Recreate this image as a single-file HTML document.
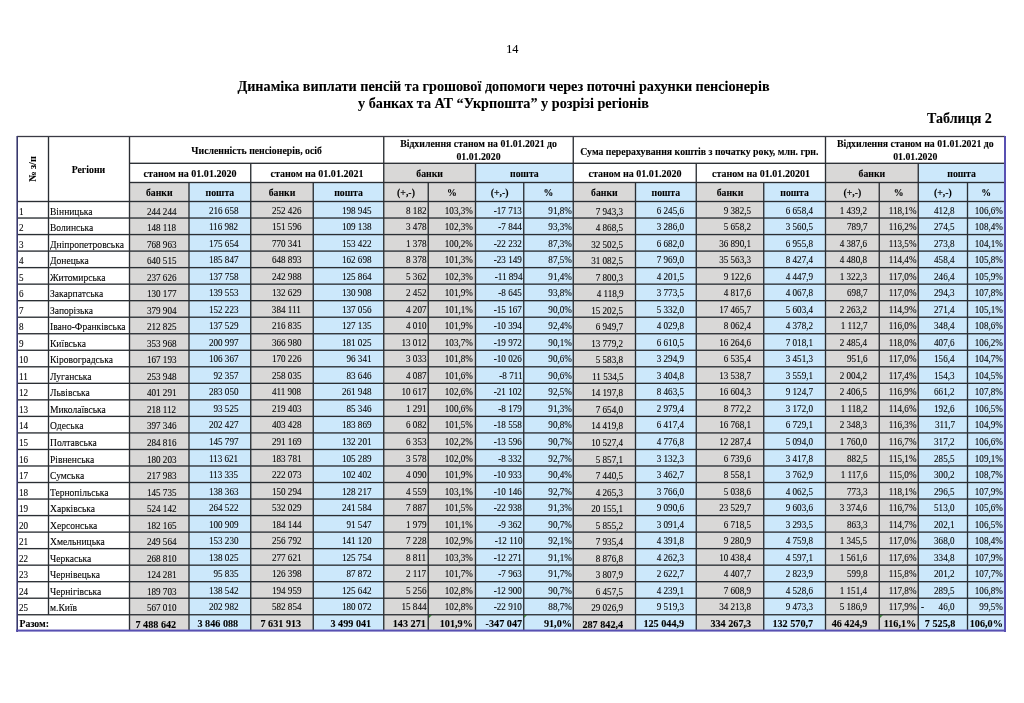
<!DOCTYPE html>
<html><head><meta charset="utf-8"><style>
html,body{margin:0;padding:0;background:#fff;}
body{width:1024px;height:703px;position:relative;overflow:hidden;}
#p{position:absolute;left:0;top:0;width:1024px;height:703px;will-change:transform;}
.r{position:absolute;}
.t{position:absolute;font-family:"Liberation Serif",serif;color:#000;line-height:20px;white-space:nowrap;}
.b{font-weight:bold;}
.t{-webkit-text-stroke:0.1px #000;}
</style></head><body><div id="p">
<div class="r" style="left:383.75px;top:163.30px;width:91.75px;height:19.20px;background:#d9d8d7"></div>
<div class="r" style="left:475.50px;top:163.30px;width:97.75px;height:19.20px;background:#cce8fb"></div>
<div class="r" style="left:825.50px;top:163.30px;width:92.75px;height:19.20px;background:#d9d8d7"></div>
<div class="r" style="left:918.25px;top:163.30px;width:86.75px;height:19.20px;background:#cce8fb"></div>
<div class="r" style="left:129.50px;top:182.50px;width:59.50px;height:448.78px;background:#d9d8d7"></div>
<div class="r" style="left:189.00px;top:182.50px;width:61.75px;height:448.78px;background:#cce8fb"></div>
<div class="r" style="left:250.75px;top:182.50px;width:62.50px;height:448.78px;background:#d9d8d7"></div>
<div class="r" style="left:313.25px;top:182.50px;width:70.50px;height:448.78px;background:#cce8fb"></div>
<div class="r" style="left:383.75px;top:182.50px;width:44.50px;height:448.78px;background:#d9d8d7"></div>
<div class="r" style="left:428.25px;top:182.50px;width:47.25px;height:448.78px;background:#d9d8d7"></div>
<div class="r" style="left:475.50px;top:182.50px;width:48.25px;height:448.78px;background:#cce8fb"></div>
<div class="r" style="left:523.75px;top:182.50px;width:49.50px;height:448.78px;background:#cce8fb"></div>
<div class="r" style="left:573.25px;top:182.50px;width:62.25px;height:448.78px;background:#d9d8d7"></div>
<div class="r" style="left:635.50px;top:182.50px;width:60.75px;height:448.78px;background:#cce8fb"></div>
<div class="r" style="left:696.25px;top:182.50px;width:67.50px;height:448.78px;background:#d9d8d7"></div>
<div class="r" style="left:763.75px;top:182.50px;width:61.75px;height:448.78px;background:#cce8fb"></div>
<div class="r" style="left:825.50px;top:182.50px;width:53.75px;height:448.78px;background:#d9d8d7"></div>
<div class="r" style="left:879.25px;top:182.50px;width:39.00px;height:448.78px;background:#d9d8d7"></div>
<div class="r" style="left:918.25px;top:182.50px;width:49.25px;height:448.78px;background:#cce8fb"></div>
<div class="r" style="left:967.50px;top:182.50px;width:37.50px;height:448.78px;background:#cce8fb"></div>
<div class="r" style="left:129.50px;top:162px;width:875.50px;height:1px;background:#2a2e33;opacity:0.38"></div>
<div class="r" style="left:129.50px;top:163px;width:875.50px;height:1px;background:#2a2e33;opacity:0.98"></div>
<div class="r" style="left:129.50px;top:181px;width:875.50px;height:1px;background:#2a2e33;opacity:0.18"></div>
<div class="r" style="left:129.50px;top:182px;width:875.50px;height:1px;background:#2a2e33;opacity:1.00"></div>
<div class="r" style="left:129.50px;top:183px;width:875.50px;height:1px;background:#2a2e33;opacity:0.18"></div>
<div class="r" style="left:17.00px;top:200px;width:988.00px;height:1px;background:#2a2e33;opacity:0.18"></div>
<div class="r" style="left:17.00px;top:201px;width:988.00px;height:1px;background:#2a2e33;opacity:1.00"></div>
<div class="r" style="left:17.00px;top:202px;width:988.00px;height:1px;background:#2a2e33;opacity:0.18"></div>
<div class="r" style="left:17.00px;top:217px;width:988.00px;height:1px;background:#2a2e33;opacity:0.65"></div>
<div class="r" style="left:17.00px;top:218px;width:988.00px;height:1px;background:#2a2e33;opacity:0.71"></div>
<div class="r" style="left:17.00px;top:233px;width:988.00px;height:1px;background:#2a2e33;opacity:0.12"></div>
<div class="r" style="left:17.00px;top:234px;width:988.00px;height:1px;background:#2a2e33;opacity:1.00"></div>
<div class="r" style="left:17.00px;top:235px;width:988.00px;height:1px;background:#2a2e33;opacity:0.24"></div>
<div class="r" style="left:17.00px;top:250px;width:988.00px;height:1px;background:#2a2e33;opacity:0.59"></div>
<div class="r" style="left:17.00px;top:251px;width:988.00px;height:1px;background:#2a2e33;opacity:0.77"></div>
<div class="r" style="left:17.00px;top:266px;width:988.00px;height:1px;background:#2a2e33;opacity:0.06"></div>
<div class="r" style="left:17.00px;top:267px;width:988.00px;height:1px;background:#2a2e33;opacity:1.00"></div>
<div class="r" style="left:17.00px;top:268px;width:988.00px;height:1px;background:#2a2e33;opacity:0.30"></div>
<div class="r" style="left:17.00px;top:283px;width:988.00px;height:1px;background:#2a2e33;opacity:0.53"></div>
<div class="r" style="left:17.00px;top:284px;width:988.00px;height:1px;background:#2a2e33;opacity:0.82"></div>
<div class="r" style="left:17.00px;top:300px;width:988.00px;height:1px;background:#2a2e33;opacity:1.00"></div>
<div class="r" style="left:17.00px;top:301px;width:988.00px;height:1px;background:#2a2e33;opacity:0.36"></div>
<div class="r" style="left:17.00px;top:316px;width:988.00px;height:1px;background:#2a2e33;opacity:0.46"></div>
<div class="r" style="left:17.00px;top:317px;width:988.00px;height:1px;background:#2a2e33;opacity:0.89"></div>
<div class="r" style="left:17.00px;top:333px;width:988.00px;height:1px;background:#2a2e33;opacity:0.94"></div>
<div class="r" style="left:17.00px;top:334px;width:988.00px;height:1px;background:#2a2e33;opacity:0.42"></div>
<div class="r" style="left:17.00px;top:349px;width:988.00px;height:1px;background:#2a2e33;opacity:0.41"></div>
<div class="r" style="left:17.00px;top:350px;width:988.00px;height:1px;background:#2a2e33;opacity:0.94"></div>
<div class="r" style="left:17.00px;top:366px;width:988.00px;height:1px;background:#2a2e33;opacity:0.88"></div>
<div class="r" style="left:17.00px;top:367px;width:988.00px;height:1px;background:#2a2e33;opacity:0.48"></div>
<div class="r" style="left:17.00px;top:382px;width:988.00px;height:1px;background:#2a2e33;opacity:0.34"></div>
<div class="r" style="left:17.00px;top:383px;width:988.00px;height:1px;background:#2a2e33;opacity:1.00"></div>
<div class="r" style="left:17.00px;top:399px;width:988.00px;height:1px;background:#2a2e33;opacity:0.81"></div>
<div class="r" style="left:17.00px;top:400px;width:988.00px;height:1px;background:#2a2e33;opacity:0.54"></div>
<div class="r" style="left:17.00px;top:415px;width:988.00px;height:1px;background:#2a2e33;opacity:0.29"></div>
<div class="r" style="left:17.00px;top:416px;width:988.00px;height:1px;background:#2a2e33;opacity:1.00"></div>
<div class="r" style="left:17.00px;top:417px;width:988.00px;height:1px;background:#2a2e33;opacity:0.06"></div>
<div class="r" style="left:17.00px;top:432px;width:988.00px;height:1px;background:#2a2e33;opacity:0.75"></div>
<div class="r" style="left:17.00px;top:433px;width:988.00px;height:1px;background:#2a2e33;opacity:0.60"></div>
<div class="r" style="left:17.00px;top:448px;width:988.00px;height:1px;background:#2a2e33;opacity:0.22"></div>
<div class="r" style="left:17.00px;top:449px;width:988.00px;height:1px;background:#2a2e33;opacity:1.00"></div>
<div class="r" style="left:17.00px;top:450px;width:988.00px;height:1px;background:#2a2e33;opacity:0.13"></div>
<div class="r" style="left:17.00px;top:465px;width:988.00px;height:1px;background:#2a2e33;opacity:0.69"></div>
<div class="r" style="left:17.00px;top:466px;width:988.00px;height:1px;background:#2a2e33;opacity:0.66"></div>
<div class="r" style="left:17.00px;top:481px;width:988.00px;height:1px;background:#2a2e33;opacity:0.17"></div>
<div class="r" style="left:17.00px;top:482px;width:988.00px;height:1px;background:#2a2e33;opacity:1.00"></div>
<div class="r" style="left:17.00px;top:483px;width:988.00px;height:1px;background:#2a2e33;opacity:0.19"></div>
<div class="r" style="left:17.00px;top:498px;width:988.00px;height:1px;background:#2a2e33;opacity:0.63"></div>
<div class="r" style="left:17.00px;top:499px;width:988.00px;height:1px;background:#2a2e33;opacity:0.72"></div>
<div class="r" style="left:17.00px;top:514px;width:988.00px;height:1px;background:#2a2e33;opacity:0.10"></div>
<div class="r" style="left:17.00px;top:515px;width:988.00px;height:1px;background:#2a2e33;opacity:1.00"></div>
<div class="r" style="left:17.00px;top:516px;width:988.00px;height:1px;background:#2a2e33;opacity:0.25"></div>
<div class="r" style="left:17.00px;top:531px;width:988.00px;height:1px;background:#2a2e33;opacity:0.57"></div>
<div class="r" style="left:17.00px;top:532px;width:988.00px;height:1px;background:#2a2e33;opacity:0.77"></div>
<div class="r" style="left:17.00px;top:547px;width:988.00px;height:1px;background:#2a2e33;opacity:0.04"></div>
<div class="r" style="left:17.00px;top:548px;width:988.00px;height:1px;background:#2a2e33;opacity:1.00"></div>
<div class="r" style="left:17.00px;top:549px;width:988.00px;height:1px;background:#2a2e33;opacity:0.30"></div>
<div class="r" style="left:17.00px;top:564px;width:988.00px;height:1px;background:#2a2e33;opacity:0.51"></div>
<div class="r" style="left:17.00px;top:565px;width:988.00px;height:1px;background:#2a2e33;opacity:0.84"></div>
<div class="r" style="left:17.00px;top:581px;width:988.00px;height:1px;background:#2a2e33;opacity:0.98"></div>
<div class="r" style="left:17.00px;top:582px;width:988.00px;height:1px;background:#2a2e33;opacity:0.37"></div>
<div class="r" style="left:17.00px;top:597px;width:988.00px;height:1px;background:#2a2e33;opacity:0.45"></div>
<div class="r" style="left:17.00px;top:598px;width:988.00px;height:1px;background:#2a2e33;opacity:0.89"></div>
<div class="r" style="left:17.00px;top:614px;width:988.00px;height:1px;background:#2a2e33;opacity:0.92"></div>
<div class="r" style="left:17.00px;top:615px;width:988.00px;height:1px;background:#2a2e33;opacity:0.42"></div>
<div class="r" style="left:47px;top:136.50px;width:1px;height:478.25px;background:#2a2e33;opacity:0.17"></div>
<div class="r" style="left:48px;top:136.50px;width:1px;height:478.25px;background:#2a2e33;opacity:1.00"></div>
<div class="r" style="left:49px;top:136.50px;width:1px;height:478.25px;background:#2a2e33;opacity:0.17"></div>
<div class="r" style="left:128px;top:136.50px;width:1px;height:494.78px;background:#2a2e33;opacity:0.18"></div>
<div class="r" style="left:129px;top:136.50px;width:1px;height:494.78px;background:#2a2e33;opacity:1.00"></div>
<div class="r" style="left:130px;top:136.50px;width:1px;height:494.78px;background:#2a2e33;opacity:0.18"></div>
<div class="r" style="left:383px;top:136.50px;width:1px;height:494.78px;background:#2a2e33;opacity:0.93"></div>
<div class="r" style="left:384px;top:136.50px;width:1px;height:494.78px;background:#2a2e33;opacity:0.43"></div>
<div class="r" style="left:572px;top:136.50px;width:1px;height:494.78px;background:#2a2e33;opacity:0.42"></div>
<div class="r" style="left:573px;top:136.50px;width:1px;height:494.78px;background:#2a2e33;opacity:0.92"></div>
<div class="r" style="left:824px;top:136.50px;width:1px;height:494.78px;background:#2a2e33;opacity:0.17"></div>
<div class="r" style="left:825px;top:136.50px;width:1px;height:494.78px;background:#2a2e33;opacity:1.00"></div>
<div class="r" style="left:826px;top:136.50px;width:1px;height:494.78px;background:#2a2e33;opacity:0.17"></div>
<div class="r" style="left:250px;top:163.30px;width:1px;height:467.98px;background:#2a2e33;opacity:0.93"></div>
<div class="r" style="left:251px;top:163.30px;width:1px;height:467.98px;background:#2a2e33;opacity:0.43"></div>
<div class="r" style="left:474px;top:163.30px;width:1px;height:467.98px;background:#2a2e33;opacity:0.18"></div>
<div class="r" style="left:475px;top:163.30px;width:1px;height:467.98px;background:#2a2e33;opacity:1.00"></div>
<div class="r" style="left:476px;top:163.30px;width:1px;height:467.98px;background:#2a2e33;opacity:0.18"></div>
<div class="r" style="left:695px;top:163.30px;width:1px;height:467.98px;background:#2a2e33;opacity:0.42"></div>
<div class="r" style="left:696px;top:163.30px;width:1px;height:467.98px;background:#2a2e33;opacity:0.92"></div>
<div class="r" style="left:917px;top:163.30px;width:1px;height:467.98px;background:#2a2e33;opacity:0.42"></div>
<div class="r" style="left:918px;top:163.30px;width:1px;height:467.98px;background:#2a2e33;opacity:0.92"></div>
<div class="r" style="left:188px;top:182.50px;width:1px;height:448.78px;background:#2a2e33;opacity:0.68"></div>
<div class="r" style="left:189px;top:182.50px;width:1px;height:448.78px;background:#2a2e33;opacity:0.68"></div>
<div class="r" style="left:312px;top:182.50px;width:1px;height:448.78px;background:#2a2e33;opacity:0.43"></div>
<div class="r" style="left:313px;top:182.50px;width:1px;height:448.78px;background:#2a2e33;opacity:0.93"></div>
<div class="r" style="left:427px;top:182.50px;width:1px;height:448.78px;background:#2a2e33;opacity:0.43"></div>
<div class="r" style="left:428px;top:182.50px;width:1px;height:448.78px;background:#2a2e33;opacity:0.93"></div>
<div class="r" style="left:523px;top:182.50px;width:1px;height:448.78px;background:#2a2e33;opacity:0.92"></div>
<div class="r" style="left:524px;top:182.50px;width:1px;height:448.78px;background:#2a2e33;opacity:0.42"></div>
<div class="r" style="left:634px;top:182.50px;width:1px;height:448.78px;background:#2a2e33;opacity:0.17"></div>
<div class="r" style="left:635px;top:182.50px;width:1px;height:448.78px;background:#2a2e33;opacity:1.00"></div>
<div class="r" style="left:636px;top:182.50px;width:1px;height:448.78px;background:#2a2e33;opacity:0.17"></div>
<div class="r" style="left:763px;top:182.50px;width:1px;height:448.78px;background:#2a2e33;opacity:0.92"></div>
<div class="r" style="left:764px;top:182.50px;width:1px;height:448.78px;background:#2a2e33;opacity:0.42"></div>
<div class="r" style="left:878px;top:182.50px;width:1px;height:448.78px;background:#2a2e33;opacity:0.42"></div>
<div class="r" style="left:879px;top:182.50px;width:1px;height:448.78px;background:#2a2e33;opacity:0.92"></div>
<div class="r" style="left:966px;top:182.50px;width:1px;height:448.78px;background:#2a2e33;opacity:0.17"></div>
<div class="r" style="left:967px;top:182.50px;width:1px;height:448.78px;background:#2a2e33;opacity:1.00"></div>
<div class="r" style="left:968px;top:182.50px;width:1px;height:448.78px;background:#2a2e33;opacity:0.17"></div>
<div class="r" style="left:17.00px;top:135px;width:988.00px;height:1px;background:#3a3a44;opacity:0.15"></div>
<div class="r" style="left:17.00px;top:136px;width:988.00px;height:1px;background:#3a3a44;opacity:1.00"></div>
<div class="r" style="left:17.00px;top:137px;width:988.00px;height:1px;background:#3a3a44;opacity:0.15"></div>
<div class="r" style="left:16px;top:136px;width:1px;height:496px;background:#38386e;opacity:0.6"></div>
<div class="r" style="left:17px;top:136px;width:1px;height:496px;background:#38386e"></div>
<div class="r" style="left:1004.10px;top:136.00px;width:2.00px;height:495.60px;background:#5850b2"></div>
<div class="r" style="left:16px;top:629px;width:990px;height:1px;background:#5850b2;opacity:0.45"></div>
<div class="r" style="left:16px;top:630px;width:990px;height:1px;background:#5850b2"></div>
<div class="r" style="left:16px;top:631px;width:990px;height:1px;background:#5850b2;opacity:0.6"></div>
<div class="t" style="left:-87.70px;width:1200px;top:38.78px;font-size:12.2px;text-align:center;">14</div>
<div class="t b" style="left:-96.50px;width:1200px;top:75.81px;font-size:14.2px;text-align:center;">Динаміка виплати пенсій та грошової допомоги через поточні рахунки пенсіонерів</div>
<div class="t b" style="left:-96.50px;width:1200px;top:92.81px;font-size:14.2px;text-align:center;">у банках та АТ “Укрпошта” у розрізі регіонів</div>
<div class="t b" style="right:32.20px;top:108.82px;font-size:14.0px;text-align:right;">Таблиця 2</div>
<div class="t b" style="left:-511.60px;width:1200px;top:159.59px;font-size:9.8px;text-align:center;">Регіони</div>
<div class="t b" style="left:-17.10px;top:158.70px;width:100px;font-size:10.2px;text-align:center;transform:rotate(-90deg);transform-origin:50px 10px;line-height:20px">№ з/п</div>
<div class="t b" style="left:-343.38px;width:1200px;top:141.49px;font-size:9.8px;text-align:center;">Численність пенсіонерів, осіб</div>
<div class="t b" style="left:-121.50px;width:1200px;top:134.49px;font-size:9.8px;text-align:center;">Відхилення станом на 01.01.2021 до</div>
<div class="t b" style="left:-121.50px;width:1200px;top:147.09px;font-size:9.8px;text-align:center;">01.01.2020</div>
<div class="t b" style="left:99.38px;width:1200px;top:141.79px;font-size:9.8px;text-align:center;">Сума перерахування коштів з початку року, млн. грн.</div>
<div class="t b" style="left:315.25px;width:1200px;top:134.29px;font-size:9.8px;text-align:center;">Відхилення станом на 01.01.2021 до</div>
<div class="t b" style="left:315.25px;width:1200px;top:147.09px;font-size:9.8px;text-align:center;">01.01.2020</div>
<div class="t b" style="left:-409.88px;width:1200px;top:163.69px;font-size:9.8px;text-align:center;transform:scaleX(1.025);transform-origin:center 50%;">станом на 01.01.2020</div>
<div class="t b" style="left:-282.75px;width:1200px;top:163.69px;font-size:9.8px;text-align:center;transform:scaleX(1.025);transform-origin:center 50%;">станом на 01.01.2021</div>
<div class="t b" style="left:-170.38px;width:1200px;top:163.69px;font-size:9.8px;text-align:center;">банки</div>
<div class="t b" style="left:-75.62px;width:1200px;top:163.69px;font-size:9.8px;text-align:center;">пошта</div>
<div class="t b" style="left:34.75px;width:1200px;top:163.69px;font-size:9.8px;text-align:center;transform:scaleX(1.025);transform-origin:center 50%;">станом на 01.01.2020</div>
<div class="t b" style="left:160.88px;width:1200px;top:163.69px;font-size:9.8px;text-align:center;transform:scaleX(1.025);transform-origin:center 50%;">станом на 01.01.20201</div>
<div class="t b" style="left:271.88px;width:1200px;top:163.69px;font-size:9.8px;text-align:center;">банки</div>
<div class="t b" style="left:361.62px;width:1200px;top:163.69px;font-size:9.8px;text-align:center;">пошта</div>
<div class="t b" style="left:-440.75px;width:1200px;top:182.89px;font-size:9.8px;text-align:center;">банки</div>
<div class="t b" style="left:-380.12px;width:1200px;top:182.89px;font-size:9.8px;text-align:center;">пошта</div>
<div class="t b" style="left:-318.00px;width:1200px;top:182.89px;font-size:9.8px;text-align:center;">банки</div>
<div class="t b" style="left:-251.50px;width:1200px;top:182.89px;font-size:9.8px;text-align:center;">пошта</div>
<div class="t b" style="left:-194.00px;width:1200px;top:182.89px;font-size:9.8px;text-align:center;">(+,-)</div>
<div class="t b" style="left:-148.12px;width:1200px;top:182.89px;font-size:9.8px;text-align:center;">%</div>
<div class="t b" style="left:-100.38px;width:1200px;top:182.89px;font-size:9.8px;text-align:center;">(+,-)</div>
<div class="t b" style="left:-51.50px;width:1200px;top:182.89px;font-size:9.8px;text-align:center;">%</div>
<div class="t b" style="left:4.38px;width:1200px;top:182.89px;font-size:9.8px;text-align:center;">банки</div>
<div class="t b" style="left:65.88px;width:1200px;top:182.89px;font-size:9.8px;text-align:center;">пошта</div>
<div class="t b" style="left:130.00px;width:1200px;top:182.89px;font-size:9.8px;text-align:center;">банки</div>
<div class="t b" style="left:194.62px;width:1200px;top:182.89px;font-size:9.8px;text-align:center;">пошта</div>
<div class="t b" style="left:252.38px;width:1200px;top:182.89px;font-size:9.8px;text-align:center;">(+,-)</div>
<div class="t b" style="left:298.75px;width:1200px;top:182.89px;font-size:9.8px;text-align:center;">%</div>
<div class="t b" style="left:342.88px;width:1200px;top:182.89px;font-size:9.8px;text-align:center;">(+,-)</div>
<div class="t b" style="left:386.25px;width:1200px;top:182.89px;font-size:9.8px;text-align:center;">%</div>
<div class="t" style="left:18.70px;top:201.56px;font-size:10.0px;text-align:left;transform:scaleX(0.91);transform-origin:left 50%;">1</div>
<div class="t" style="left:50.40px;top:201.56px;font-size:10.0px;text-align:left;transform:scaleX(0.955);transform-origin:left 50%;">Вінницька</div>
<div class="t" style="right:848.00px;top:201.56px;font-size:10.0px;text-align:right;transform:scaleX(0.91);transform-origin:right 50%;">244 244</div>
<div class="t" style="right:785.75px;top:200.56px;font-size:10.0px;text-align:right;transform:scaleX(0.91);transform-origin:right 50%;">216 658</div>
<div class="t" style="right:722.75px;top:200.56px;font-size:10.0px;text-align:right;transform:scaleX(0.91);transform-origin:right 50%;">252 426</div>
<div class="t" style="right:652.95px;top:200.56px;font-size:10.0px;text-align:right;transform:scaleX(0.91);transform-origin:right 50%;">198 945</div>
<div class="t" style="right:597.75px;top:200.56px;font-size:10.0px;text-align:right;transform:scaleX(0.91);transform-origin:right 50%;">8 182</div>
<div class="t" style="right:550.80px;top:200.56px;font-size:10.0px;text-align:right;transform:scaleX(0.91);transform-origin:right 50%;">103,3%</div>
<div class="t" style="right:501.75px;top:200.56px;font-size:10.0px;text-align:right;transform:scaleX(0.91);transform-origin:right 50%;">-17 713</div>
<div class="t" style="right:452.35px;top:200.56px;font-size:10.0px;text-align:right;transform:scaleX(0.91);transform-origin:right 50%;">91,8%</div>
<div class="t" style="right:400.80px;top:201.56px;font-size:10.0px;text-align:right;transform:scaleX(0.91);transform-origin:right 50%;">7 943,3</div>
<div class="t" style="right:339.95px;top:200.56px;font-size:10.0px;text-align:right;transform:scaleX(0.91);transform-origin:right 50%;">6 245,6</div>
<div class="t" style="right:272.75px;top:200.56px;font-size:10.0px;text-align:right;transform:scaleX(0.91);transform-origin:right 50%;">9 382,5</div>
<div class="t" style="right:210.90px;top:200.56px;font-size:10.0px;text-align:right;transform:scaleX(0.91);transform-origin:right 50%;">6 658,4</div>
<div class="t" style="right:156.75px;top:200.56px;font-size:10.0px;text-align:right;transform:scaleX(0.91);transform-origin:right 50%;">1 439,2</div>
<div class="t" style="right:107.75px;top:200.56px;font-size:10.0px;text-align:right;transform:scaleX(0.91);transform-origin:right 50%;">118,1%</div>
<div class="t" style="right:69.10px;top:200.56px;font-size:10.0px;text-align:right;transform:scaleX(0.91);transform-origin:right 50%;">412,8</div>
<div class="t" style="right:21.20px;top:200.56px;font-size:10.0px;text-align:right;transform:scaleX(0.91);transform-origin:right 50%;">106,6%</div>
<div class="t" style="left:18.70px;top:218.09px;font-size:10.0px;text-align:left;transform:scaleX(0.91);transform-origin:left 50%;">2</div>
<div class="t" style="left:50.40px;top:218.09px;font-size:10.0px;text-align:left;transform:scaleX(0.955);transform-origin:left 50%;">Волинська</div>
<div class="t" style="right:848.00px;top:218.09px;font-size:10.0px;text-align:right;transform:scaleX(0.91);transform-origin:right 50%;">148 118</div>
<div class="t" style="right:785.75px;top:217.09px;font-size:10.0px;text-align:right;transform:scaleX(0.91);transform-origin:right 50%;">116 982</div>
<div class="t" style="right:722.75px;top:217.09px;font-size:10.0px;text-align:right;transform:scaleX(0.91);transform-origin:right 50%;">151 596</div>
<div class="t" style="right:652.95px;top:217.09px;font-size:10.0px;text-align:right;transform:scaleX(0.91);transform-origin:right 50%;">109 138</div>
<div class="t" style="right:597.75px;top:217.09px;font-size:10.0px;text-align:right;transform:scaleX(0.91);transform-origin:right 50%;">3 478</div>
<div class="t" style="right:550.80px;top:217.09px;font-size:10.0px;text-align:right;transform:scaleX(0.91);transform-origin:right 50%;">102,3%</div>
<div class="t" style="right:501.75px;top:217.09px;font-size:10.0px;text-align:right;transform:scaleX(0.91);transform-origin:right 50%;">-7 844</div>
<div class="t" style="right:452.35px;top:217.09px;font-size:10.0px;text-align:right;transform:scaleX(0.91);transform-origin:right 50%;">93,3%</div>
<div class="t" style="right:400.80px;top:218.09px;font-size:10.0px;text-align:right;transform:scaleX(0.91);transform-origin:right 50%;">4 868,5</div>
<div class="t" style="right:339.95px;top:217.09px;font-size:10.0px;text-align:right;transform:scaleX(0.91);transform-origin:right 50%;">3 286,0</div>
<div class="t" style="right:272.75px;top:217.09px;font-size:10.0px;text-align:right;transform:scaleX(0.91);transform-origin:right 50%;">5 658,2</div>
<div class="t" style="right:210.90px;top:217.09px;font-size:10.0px;text-align:right;transform:scaleX(0.91);transform-origin:right 50%;">3 560,5</div>
<div class="t" style="right:156.75px;top:217.09px;font-size:10.0px;text-align:right;transform:scaleX(0.91);transform-origin:right 50%;">789,7</div>
<div class="t" style="right:107.75px;top:217.09px;font-size:10.0px;text-align:right;transform:scaleX(0.91);transform-origin:right 50%;">116,2%</div>
<div class="t" style="right:69.10px;top:217.09px;font-size:10.0px;text-align:right;transform:scaleX(0.91);transform-origin:right 50%;">274,5</div>
<div class="t" style="right:21.20px;top:217.09px;font-size:10.0px;text-align:right;transform:scaleX(0.91);transform-origin:right 50%;">108,4%</div>
<div class="t" style="left:18.70px;top:234.62px;font-size:10.0px;text-align:left;transform:scaleX(0.91);transform-origin:left 50%;">3</div>
<div class="t" style="left:50.40px;top:234.62px;font-size:10.0px;text-align:left;transform:scaleX(0.955);transform-origin:left 50%;">Дніпропетровська</div>
<div class="t" style="right:848.00px;top:234.62px;font-size:10.0px;text-align:right;transform:scaleX(0.91);transform-origin:right 50%;">768 963</div>
<div class="t" style="right:785.75px;top:233.62px;font-size:10.0px;text-align:right;transform:scaleX(0.91);transform-origin:right 50%;">175 654</div>
<div class="t" style="right:722.75px;top:233.62px;font-size:10.0px;text-align:right;transform:scaleX(0.91);transform-origin:right 50%;">770 341</div>
<div class="t" style="right:652.95px;top:233.62px;font-size:10.0px;text-align:right;transform:scaleX(0.91);transform-origin:right 50%;">153 422</div>
<div class="t" style="right:597.75px;top:233.62px;font-size:10.0px;text-align:right;transform:scaleX(0.91);transform-origin:right 50%;">1 378</div>
<div class="t" style="right:550.80px;top:233.62px;font-size:10.0px;text-align:right;transform:scaleX(0.91);transform-origin:right 50%;">100,2%</div>
<div class="t" style="right:501.75px;top:233.62px;font-size:10.0px;text-align:right;transform:scaleX(0.91);transform-origin:right 50%;">-22 232</div>
<div class="t" style="right:452.35px;top:233.62px;font-size:10.0px;text-align:right;transform:scaleX(0.91);transform-origin:right 50%;">87,3%</div>
<div class="t" style="right:400.80px;top:234.62px;font-size:10.0px;text-align:right;transform:scaleX(0.91);transform-origin:right 50%;">32 502,5</div>
<div class="t" style="right:339.95px;top:233.62px;font-size:10.0px;text-align:right;transform:scaleX(0.91);transform-origin:right 50%;">6 682,0</div>
<div class="t" style="right:272.75px;top:233.62px;font-size:10.0px;text-align:right;transform:scaleX(0.91);transform-origin:right 50%;">36 890,1</div>
<div class="t" style="right:210.90px;top:233.62px;font-size:10.0px;text-align:right;transform:scaleX(0.91);transform-origin:right 50%;">6 955,8</div>
<div class="t" style="right:156.75px;top:233.62px;font-size:10.0px;text-align:right;transform:scaleX(0.91);transform-origin:right 50%;">4 387,6</div>
<div class="t" style="right:107.75px;top:233.62px;font-size:10.0px;text-align:right;transform:scaleX(0.91);transform-origin:right 50%;">113,5%</div>
<div class="t" style="right:69.10px;top:233.62px;font-size:10.0px;text-align:right;transform:scaleX(0.91);transform-origin:right 50%;">273,8</div>
<div class="t" style="right:21.20px;top:233.62px;font-size:10.0px;text-align:right;transform:scaleX(0.91);transform-origin:right 50%;">104,1%</div>
<div class="t" style="left:18.70px;top:251.15px;font-size:10.0px;text-align:left;transform:scaleX(0.91);transform-origin:left 50%;">4</div>
<div class="t" style="left:50.40px;top:251.15px;font-size:10.0px;text-align:left;transform:scaleX(0.955);transform-origin:left 50%;">Донецька</div>
<div class="t" style="right:848.00px;top:251.15px;font-size:10.0px;text-align:right;transform:scaleX(0.91);transform-origin:right 50%;">640 515</div>
<div class="t" style="right:785.75px;top:250.15px;font-size:10.0px;text-align:right;transform:scaleX(0.91);transform-origin:right 50%;">185 847</div>
<div class="t" style="right:722.75px;top:250.15px;font-size:10.0px;text-align:right;transform:scaleX(0.91);transform-origin:right 50%;">648 893</div>
<div class="t" style="right:652.95px;top:250.15px;font-size:10.0px;text-align:right;transform:scaleX(0.91);transform-origin:right 50%;">162 698</div>
<div class="t" style="right:597.75px;top:250.15px;font-size:10.0px;text-align:right;transform:scaleX(0.91);transform-origin:right 50%;">8 378</div>
<div class="t" style="right:550.80px;top:250.15px;font-size:10.0px;text-align:right;transform:scaleX(0.91);transform-origin:right 50%;">101,3%</div>
<div class="t" style="right:501.75px;top:250.15px;font-size:10.0px;text-align:right;transform:scaleX(0.91);transform-origin:right 50%;">-23 149</div>
<div class="t" style="right:452.35px;top:250.15px;font-size:10.0px;text-align:right;transform:scaleX(0.91);transform-origin:right 50%;">87,5%</div>
<div class="t" style="right:400.80px;top:251.15px;font-size:10.0px;text-align:right;transform:scaleX(0.91);transform-origin:right 50%;">31 082,5</div>
<div class="t" style="right:339.95px;top:250.15px;font-size:10.0px;text-align:right;transform:scaleX(0.91);transform-origin:right 50%;">7 969,0</div>
<div class="t" style="right:272.75px;top:250.15px;font-size:10.0px;text-align:right;transform:scaleX(0.91);transform-origin:right 50%;">35 563,3</div>
<div class="t" style="right:210.90px;top:250.15px;font-size:10.0px;text-align:right;transform:scaleX(0.91);transform-origin:right 50%;">8 427,4</div>
<div class="t" style="right:156.75px;top:250.15px;font-size:10.0px;text-align:right;transform:scaleX(0.91);transform-origin:right 50%;">4 480,8</div>
<div class="t" style="right:107.75px;top:250.15px;font-size:10.0px;text-align:right;transform:scaleX(0.91);transform-origin:right 50%;">114,4%</div>
<div class="t" style="right:69.10px;top:250.15px;font-size:10.0px;text-align:right;transform:scaleX(0.91);transform-origin:right 50%;">458,4</div>
<div class="t" style="right:21.20px;top:250.15px;font-size:10.0px;text-align:right;transform:scaleX(0.91);transform-origin:right 50%;">105,8%</div>
<div class="t" style="left:18.70px;top:267.67px;font-size:10.0px;text-align:left;transform:scaleX(0.91);transform-origin:left 50%;">5</div>
<div class="t" style="left:50.40px;top:267.67px;font-size:10.0px;text-align:left;transform:scaleX(0.955);transform-origin:left 50%;">Житомирська</div>
<div class="t" style="right:848.00px;top:267.67px;font-size:10.0px;text-align:right;transform:scaleX(0.91);transform-origin:right 50%;">237 626</div>
<div class="t" style="right:785.75px;top:266.67px;font-size:10.0px;text-align:right;transform:scaleX(0.91);transform-origin:right 50%;">137 758</div>
<div class="t" style="right:722.75px;top:266.67px;font-size:10.0px;text-align:right;transform:scaleX(0.91);transform-origin:right 50%;">242 988</div>
<div class="t" style="right:652.95px;top:266.67px;font-size:10.0px;text-align:right;transform:scaleX(0.91);transform-origin:right 50%;">125 864</div>
<div class="t" style="right:597.75px;top:266.67px;font-size:10.0px;text-align:right;transform:scaleX(0.91);transform-origin:right 50%;">5 362</div>
<div class="t" style="right:550.80px;top:266.67px;font-size:10.0px;text-align:right;transform:scaleX(0.91);transform-origin:right 50%;">102,3%</div>
<div class="t" style="right:501.75px;top:266.67px;font-size:10.0px;text-align:right;transform:scaleX(0.91);transform-origin:right 50%;">-11 894</div>
<div class="t" style="right:452.35px;top:266.67px;font-size:10.0px;text-align:right;transform:scaleX(0.91);transform-origin:right 50%;">91,4%</div>
<div class="t" style="right:400.80px;top:267.67px;font-size:10.0px;text-align:right;transform:scaleX(0.91);transform-origin:right 50%;">7 800,3</div>
<div class="t" style="right:339.95px;top:266.67px;font-size:10.0px;text-align:right;transform:scaleX(0.91);transform-origin:right 50%;">4 201,5</div>
<div class="t" style="right:272.75px;top:266.67px;font-size:10.0px;text-align:right;transform:scaleX(0.91);transform-origin:right 50%;">9 122,6</div>
<div class="t" style="right:210.90px;top:266.67px;font-size:10.0px;text-align:right;transform:scaleX(0.91);transform-origin:right 50%;">4 447,9</div>
<div class="t" style="right:156.75px;top:266.67px;font-size:10.0px;text-align:right;transform:scaleX(0.91);transform-origin:right 50%;">1 322,3</div>
<div class="t" style="right:107.75px;top:266.67px;font-size:10.0px;text-align:right;transform:scaleX(0.91);transform-origin:right 50%;">117,0%</div>
<div class="t" style="right:69.10px;top:266.67px;font-size:10.0px;text-align:right;transform:scaleX(0.91);transform-origin:right 50%;">246,4</div>
<div class="t" style="right:21.20px;top:266.67px;font-size:10.0px;text-align:right;transform:scaleX(0.91);transform-origin:right 50%;">105,9%</div>
<div class="t" style="left:18.70px;top:284.20px;font-size:10.0px;text-align:left;transform:scaleX(0.91);transform-origin:left 50%;">6</div>
<div class="t" style="left:50.40px;top:284.20px;font-size:10.0px;text-align:left;transform:scaleX(0.955);transform-origin:left 50%;">Закарпатська</div>
<div class="t" style="right:848.00px;top:284.20px;font-size:10.0px;text-align:right;transform:scaleX(0.91);transform-origin:right 50%;">130 177</div>
<div class="t" style="right:785.75px;top:283.20px;font-size:10.0px;text-align:right;transform:scaleX(0.91);transform-origin:right 50%;">139 553</div>
<div class="t" style="right:722.75px;top:283.20px;font-size:10.0px;text-align:right;transform:scaleX(0.91);transform-origin:right 50%;">132 629</div>
<div class="t" style="right:652.95px;top:283.20px;font-size:10.0px;text-align:right;transform:scaleX(0.91);transform-origin:right 50%;">130 908</div>
<div class="t" style="right:597.75px;top:283.20px;font-size:10.0px;text-align:right;transform:scaleX(0.91);transform-origin:right 50%;">2 452</div>
<div class="t" style="right:550.80px;top:283.20px;font-size:10.0px;text-align:right;transform:scaleX(0.91);transform-origin:right 50%;">101,9%</div>
<div class="t" style="right:501.75px;top:283.20px;font-size:10.0px;text-align:right;transform:scaleX(0.91);transform-origin:right 50%;">-8 645</div>
<div class="t" style="right:452.35px;top:283.20px;font-size:10.0px;text-align:right;transform:scaleX(0.91);transform-origin:right 50%;">93,8%</div>
<div class="t" style="right:400.80px;top:284.20px;font-size:10.0px;text-align:right;transform:scaleX(0.91);transform-origin:right 50%;">4 118,9</div>
<div class="t" style="right:339.95px;top:283.20px;font-size:10.0px;text-align:right;transform:scaleX(0.91);transform-origin:right 50%;">3 773,5</div>
<div class="t" style="right:272.75px;top:283.20px;font-size:10.0px;text-align:right;transform:scaleX(0.91);transform-origin:right 50%;">4 817,6</div>
<div class="t" style="right:210.90px;top:283.20px;font-size:10.0px;text-align:right;transform:scaleX(0.91);transform-origin:right 50%;">4 067,8</div>
<div class="t" style="right:156.75px;top:283.20px;font-size:10.0px;text-align:right;transform:scaleX(0.91);transform-origin:right 50%;">698,7</div>
<div class="t" style="right:107.75px;top:283.20px;font-size:10.0px;text-align:right;transform:scaleX(0.91);transform-origin:right 50%;">117,0%</div>
<div class="t" style="right:69.10px;top:283.20px;font-size:10.0px;text-align:right;transform:scaleX(0.91);transform-origin:right 50%;">294,3</div>
<div class="t" style="right:21.20px;top:283.20px;font-size:10.0px;text-align:right;transform:scaleX(0.91);transform-origin:right 50%;">107,8%</div>
<div class="t" style="left:18.70px;top:300.74px;font-size:10.0px;text-align:left;transform:scaleX(0.91);transform-origin:left 50%;">7</div>
<div class="t" style="left:50.40px;top:300.74px;font-size:10.0px;text-align:left;transform:scaleX(0.955);transform-origin:left 50%;">Запорізька</div>
<div class="t" style="right:848.00px;top:300.74px;font-size:10.0px;text-align:right;transform:scaleX(0.91);transform-origin:right 50%;">379 904</div>
<div class="t" style="right:785.75px;top:299.74px;font-size:10.0px;text-align:right;transform:scaleX(0.91);transform-origin:right 50%;">152 223</div>
<div class="t" style="right:722.75px;top:299.74px;font-size:10.0px;text-align:right;transform:scaleX(0.91);transform-origin:right 50%;">384 111</div>
<div class="t" style="right:652.95px;top:299.74px;font-size:10.0px;text-align:right;transform:scaleX(0.91);transform-origin:right 50%;">137 056</div>
<div class="t" style="right:597.75px;top:299.74px;font-size:10.0px;text-align:right;transform:scaleX(0.91);transform-origin:right 50%;">4 207</div>
<div class="t" style="right:550.80px;top:299.74px;font-size:10.0px;text-align:right;transform:scaleX(0.91);transform-origin:right 50%;">101,1%</div>
<div class="t" style="right:501.75px;top:299.74px;font-size:10.0px;text-align:right;transform:scaleX(0.91);transform-origin:right 50%;">-15 167</div>
<div class="t" style="right:452.35px;top:299.74px;font-size:10.0px;text-align:right;transform:scaleX(0.91);transform-origin:right 50%;">90,0%</div>
<div class="t" style="right:400.80px;top:300.74px;font-size:10.0px;text-align:right;transform:scaleX(0.91);transform-origin:right 50%;">15 202,5</div>
<div class="t" style="right:339.95px;top:299.74px;font-size:10.0px;text-align:right;transform:scaleX(0.91);transform-origin:right 50%;">5 332,0</div>
<div class="t" style="right:272.75px;top:299.74px;font-size:10.0px;text-align:right;transform:scaleX(0.91);transform-origin:right 50%;">17 465,7</div>
<div class="t" style="right:210.90px;top:299.74px;font-size:10.0px;text-align:right;transform:scaleX(0.91);transform-origin:right 50%;">5 603,4</div>
<div class="t" style="right:156.75px;top:299.74px;font-size:10.0px;text-align:right;transform:scaleX(0.91);transform-origin:right 50%;">2 263,2</div>
<div class="t" style="right:107.75px;top:299.74px;font-size:10.0px;text-align:right;transform:scaleX(0.91);transform-origin:right 50%;">114,9%</div>
<div class="t" style="right:69.10px;top:299.74px;font-size:10.0px;text-align:right;transform:scaleX(0.91);transform-origin:right 50%;">271,4</div>
<div class="t" style="right:21.20px;top:299.74px;font-size:10.0px;text-align:right;transform:scaleX(0.91);transform-origin:right 50%;">105,1%</div>
<div class="t" style="left:18.70px;top:317.26px;font-size:10.0px;text-align:left;transform:scaleX(0.91);transform-origin:left 50%;">8</div>
<div class="t" style="left:50.40px;top:317.26px;font-size:10.0px;text-align:left;transform:scaleX(0.955);transform-origin:left 50%;">Івано-Франківська</div>
<div class="t" style="right:848.00px;top:317.26px;font-size:10.0px;text-align:right;transform:scaleX(0.91);transform-origin:right 50%;">212 825</div>
<div class="t" style="right:785.75px;top:316.26px;font-size:10.0px;text-align:right;transform:scaleX(0.91);transform-origin:right 50%;">137 529</div>
<div class="t" style="right:722.75px;top:316.26px;font-size:10.0px;text-align:right;transform:scaleX(0.91);transform-origin:right 50%;">216 835</div>
<div class="t" style="right:652.95px;top:316.26px;font-size:10.0px;text-align:right;transform:scaleX(0.91);transform-origin:right 50%;">127 135</div>
<div class="t" style="right:597.75px;top:316.26px;font-size:10.0px;text-align:right;transform:scaleX(0.91);transform-origin:right 50%;">4 010</div>
<div class="t" style="right:550.80px;top:316.26px;font-size:10.0px;text-align:right;transform:scaleX(0.91);transform-origin:right 50%;">101,9%</div>
<div class="t" style="right:501.75px;top:316.26px;font-size:10.0px;text-align:right;transform:scaleX(0.91);transform-origin:right 50%;">-10 394</div>
<div class="t" style="right:452.35px;top:316.26px;font-size:10.0px;text-align:right;transform:scaleX(0.91);transform-origin:right 50%;">92,4%</div>
<div class="t" style="right:400.80px;top:317.26px;font-size:10.0px;text-align:right;transform:scaleX(0.91);transform-origin:right 50%;">6 949,7</div>
<div class="t" style="right:339.95px;top:316.26px;font-size:10.0px;text-align:right;transform:scaleX(0.91);transform-origin:right 50%;">4 029,8</div>
<div class="t" style="right:272.75px;top:316.26px;font-size:10.0px;text-align:right;transform:scaleX(0.91);transform-origin:right 50%;">8 062,4</div>
<div class="t" style="right:210.90px;top:316.26px;font-size:10.0px;text-align:right;transform:scaleX(0.91);transform-origin:right 50%;">4 378,2</div>
<div class="t" style="right:156.75px;top:316.26px;font-size:10.0px;text-align:right;transform:scaleX(0.91);transform-origin:right 50%;">1 112,7</div>
<div class="t" style="right:107.75px;top:316.26px;font-size:10.0px;text-align:right;transform:scaleX(0.91);transform-origin:right 50%;">116,0%</div>
<div class="t" style="right:69.10px;top:316.26px;font-size:10.0px;text-align:right;transform:scaleX(0.91);transform-origin:right 50%;">348,4</div>
<div class="t" style="right:21.20px;top:316.26px;font-size:10.0px;text-align:right;transform:scaleX(0.91);transform-origin:right 50%;">108,6%</div>
<div class="t" style="left:18.70px;top:333.79px;font-size:10.0px;text-align:left;transform:scaleX(0.91);transform-origin:left 50%;">9</div>
<div class="t" style="left:50.40px;top:333.79px;font-size:10.0px;text-align:left;transform:scaleX(0.955);transform-origin:left 50%;">Київська</div>
<div class="t" style="right:848.00px;top:333.79px;font-size:10.0px;text-align:right;transform:scaleX(0.91);transform-origin:right 50%;">353 968</div>
<div class="t" style="right:785.75px;top:332.79px;font-size:10.0px;text-align:right;transform:scaleX(0.91);transform-origin:right 50%;">200 997</div>
<div class="t" style="right:722.75px;top:332.79px;font-size:10.0px;text-align:right;transform:scaleX(0.91);transform-origin:right 50%;">366 980</div>
<div class="t" style="right:652.95px;top:332.79px;font-size:10.0px;text-align:right;transform:scaleX(0.91);transform-origin:right 50%;">181 025</div>
<div class="t" style="right:597.75px;top:332.79px;font-size:10.0px;text-align:right;transform:scaleX(0.91);transform-origin:right 50%;">13 012</div>
<div class="t" style="right:550.80px;top:332.79px;font-size:10.0px;text-align:right;transform:scaleX(0.91);transform-origin:right 50%;">103,7%</div>
<div class="t" style="right:501.75px;top:332.79px;font-size:10.0px;text-align:right;transform:scaleX(0.91);transform-origin:right 50%;">-19 972</div>
<div class="t" style="right:452.35px;top:332.79px;font-size:10.0px;text-align:right;transform:scaleX(0.91);transform-origin:right 50%;">90,1%</div>
<div class="t" style="right:400.80px;top:333.79px;font-size:10.0px;text-align:right;transform:scaleX(0.91);transform-origin:right 50%;">13 779,2</div>
<div class="t" style="right:339.95px;top:332.79px;font-size:10.0px;text-align:right;transform:scaleX(0.91);transform-origin:right 50%;">6 610,5</div>
<div class="t" style="right:272.75px;top:332.79px;font-size:10.0px;text-align:right;transform:scaleX(0.91);transform-origin:right 50%;">16 264,6</div>
<div class="t" style="right:210.90px;top:332.79px;font-size:10.0px;text-align:right;transform:scaleX(0.91);transform-origin:right 50%;">7 018,1</div>
<div class="t" style="right:156.75px;top:332.79px;font-size:10.0px;text-align:right;transform:scaleX(0.91);transform-origin:right 50%;">2 485,4</div>
<div class="t" style="right:107.75px;top:332.79px;font-size:10.0px;text-align:right;transform:scaleX(0.91);transform-origin:right 50%;">118,0%</div>
<div class="t" style="right:69.10px;top:332.79px;font-size:10.0px;text-align:right;transform:scaleX(0.91);transform-origin:right 50%;">407,6</div>
<div class="t" style="right:21.20px;top:332.79px;font-size:10.0px;text-align:right;transform:scaleX(0.91);transform-origin:right 50%;">106,2%</div>
<div class="t" style="left:18.70px;top:350.32px;font-size:10.0px;text-align:left;transform:scaleX(0.91);transform-origin:left 50%;">10</div>
<div class="t" style="left:50.40px;top:350.32px;font-size:10.0px;text-align:left;transform:scaleX(0.955);transform-origin:left 50%;">Кіровоградська</div>
<div class="t" style="right:848.00px;top:350.32px;font-size:10.0px;text-align:right;transform:scaleX(0.91);transform-origin:right 50%;">167 193</div>
<div class="t" style="right:785.75px;top:349.32px;font-size:10.0px;text-align:right;transform:scaleX(0.91);transform-origin:right 50%;">106 367</div>
<div class="t" style="right:722.75px;top:349.32px;font-size:10.0px;text-align:right;transform:scaleX(0.91);transform-origin:right 50%;">170 226</div>
<div class="t" style="right:652.95px;top:349.32px;font-size:10.0px;text-align:right;transform:scaleX(0.91);transform-origin:right 50%;">96 341</div>
<div class="t" style="right:597.75px;top:349.32px;font-size:10.0px;text-align:right;transform:scaleX(0.91);transform-origin:right 50%;">3 033</div>
<div class="t" style="right:550.80px;top:349.32px;font-size:10.0px;text-align:right;transform:scaleX(0.91);transform-origin:right 50%;">101,8%</div>
<div class="t" style="right:501.75px;top:349.32px;font-size:10.0px;text-align:right;transform:scaleX(0.91);transform-origin:right 50%;">-10 026</div>
<div class="t" style="right:452.35px;top:349.32px;font-size:10.0px;text-align:right;transform:scaleX(0.91);transform-origin:right 50%;">90,6%</div>
<div class="t" style="right:400.80px;top:350.32px;font-size:10.0px;text-align:right;transform:scaleX(0.91);transform-origin:right 50%;">5 583,8</div>
<div class="t" style="right:339.95px;top:349.32px;font-size:10.0px;text-align:right;transform:scaleX(0.91);transform-origin:right 50%;">3 294,9</div>
<div class="t" style="right:272.75px;top:349.32px;font-size:10.0px;text-align:right;transform:scaleX(0.91);transform-origin:right 50%;">6 535,4</div>
<div class="t" style="right:210.90px;top:349.32px;font-size:10.0px;text-align:right;transform:scaleX(0.91);transform-origin:right 50%;">3 451,3</div>
<div class="t" style="right:156.75px;top:349.32px;font-size:10.0px;text-align:right;transform:scaleX(0.91);transform-origin:right 50%;">951,6</div>
<div class="t" style="right:107.75px;top:349.32px;font-size:10.0px;text-align:right;transform:scaleX(0.91);transform-origin:right 50%;">117,0%</div>
<div class="t" style="right:69.10px;top:349.32px;font-size:10.0px;text-align:right;transform:scaleX(0.91);transform-origin:right 50%;">156,4</div>
<div class="t" style="right:21.20px;top:349.32px;font-size:10.0px;text-align:right;transform:scaleX(0.91);transform-origin:right 50%;">104,7%</div>
<div class="t" style="left:18.70px;top:366.86px;font-size:10.0px;text-align:left;transform:scaleX(0.91);transform-origin:left 50%;">11</div>
<div class="t" style="left:50.40px;top:366.86px;font-size:10.0px;text-align:left;transform:scaleX(0.955);transform-origin:left 50%;">Луганська</div>
<div class="t" style="right:848.00px;top:366.86px;font-size:10.0px;text-align:right;transform:scaleX(0.91);transform-origin:right 50%;">253 948</div>
<div class="t" style="right:785.75px;top:365.86px;font-size:10.0px;text-align:right;transform:scaleX(0.91);transform-origin:right 50%;">92 357</div>
<div class="t" style="right:722.75px;top:365.86px;font-size:10.0px;text-align:right;transform:scaleX(0.91);transform-origin:right 50%;">258 035</div>
<div class="t" style="right:652.95px;top:365.86px;font-size:10.0px;text-align:right;transform:scaleX(0.91);transform-origin:right 50%;">83 646</div>
<div class="t" style="right:597.75px;top:365.86px;font-size:10.0px;text-align:right;transform:scaleX(0.91);transform-origin:right 50%;">4 087</div>
<div class="t" style="right:550.80px;top:365.86px;font-size:10.0px;text-align:right;transform:scaleX(0.91);transform-origin:right 50%;">101,6%</div>
<div class="t" style="right:501.75px;top:365.86px;font-size:10.0px;text-align:right;transform:scaleX(0.91);transform-origin:right 50%;">-8 711</div>
<div class="t" style="right:452.35px;top:365.86px;font-size:10.0px;text-align:right;transform:scaleX(0.91);transform-origin:right 50%;">90,6%</div>
<div class="t" style="right:400.80px;top:366.86px;font-size:10.0px;text-align:right;transform:scaleX(0.91);transform-origin:right 50%;">11 534,5</div>
<div class="t" style="right:339.95px;top:365.86px;font-size:10.0px;text-align:right;transform:scaleX(0.91);transform-origin:right 50%;">3 404,8</div>
<div class="t" style="right:272.75px;top:365.86px;font-size:10.0px;text-align:right;transform:scaleX(0.91);transform-origin:right 50%;">13 538,7</div>
<div class="t" style="right:210.90px;top:365.86px;font-size:10.0px;text-align:right;transform:scaleX(0.91);transform-origin:right 50%;">3 559,1</div>
<div class="t" style="right:156.75px;top:365.86px;font-size:10.0px;text-align:right;transform:scaleX(0.91);transform-origin:right 50%;">2 004,2</div>
<div class="t" style="right:107.75px;top:365.86px;font-size:10.0px;text-align:right;transform:scaleX(0.91);transform-origin:right 50%;">117,4%</div>
<div class="t" style="right:69.10px;top:365.86px;font-size:10.0px;text-align:right;transform:scaleX(0.91);transform-origin:right 50%;">154,3</div>
<div class="t" style="right:21.20px;top:365.86px;font-size:10.0px;text-align:right;transform:scaleX(0.91);transform-origin:right 50%;">104,5%</div>
<div class="t" style="left:18.70px;top:383.38px;font-size:10.0px;text-align:left;transform:scaleX(0.91);transform-origin:left 50%;">12</div>
<div class="t" style="left:50.40px;top:383.38px;font-size:10.0px;text-align:left;transform:scaleX(0.955);transform-origin:left 50%;">Львівська</div>
<div class="t" style="right:848.00px;top:383.38px;font-size:10.0px;text-align:right;transform:scaleX(0.91);transform-origin:right 50%;">401 291</div>
<div class="t" style="right:785.75px;top:382.38px;font-size:10.0px;text-align:right;transform:scaleX(0.91);transform-origin:right 50%;">283 050</div>
<div class="t" style="right:722.75px;top:382.38px;font-size:10.0px;text-align:right;transform:scaleX(0.91);transform-origin:right 50%;">411 908</div>
<div class="t" style="right:652.95px;top:382.38px;font-size:10.0px;text-align:right;transform:scaleX(0.91);transform-origin:right 50%;">261 948</div>
<div class="t" style="right:597.75px;top:382.38px;font-size:10.0px;text-align:right;transform:scaleX(0.91);transform-origin:right 50%;">10 617</div>
<div class="t" style="right:550.80px;top:382.38px;font-size:10.0px;text-align:right;transform:scaleX(0.91);transform-origin:right 50%;">102,6%</div>
<div class="t" style="right:501.75px;top:382.38px;font-size:10.0px;text-align:right;transform:scaleX(0.91);transform-origin:right 50%;">-21 102</div>
<div class="t" style="right:452.35px;top:382.38px;font-size:10.0px;text-align:right;transform:scaleX(0.91);transform-origin:right 50%;">92,5%</div>
<div class="t" style="right:400.80px;top:383.38px;font-size:10.0px;text-align:right;transform:scaleX(0.91);transform-origin:right 50%;">14 197,8</div>
<div class="t" style="right:339.95px;top:382.38px;font-size:10.0px;text-align:right;transform:scaleX(0.91);transform-origin:right 50%;">8 463,5</div>
<div class="t" style="right:272.75px;top:382.38px;font-size:10.0px;text-align:right;transform:scaleX(0.91);transform-origin:right 50%;">16 604,3</div>
<div class="t" style="right:210.90px;top:382.38px;font-size:10.0px;text-align:right;transform:scaleX(0.91);transform-origin:right 50%;">9 124,7</div>
<div class="t" style="right:156.75px;top:382.38px;font-size:10.0px;text-align:right;transform:scaleX(0.91);transform-origin:right 50%;">2 406,5</div>
<div class="t" style="right:107.75px;top:382.38px;font-size:10.0px;text-align:right;transform:scaleX(0.91);transform-origin:right 50%;">116,9%</div>
<div class="t" style="right:69.10px;top:382.38px;font-size:10.0px;text-align:right;transform:scaleX(0.91);transform-origin:right 50%;">661,2</div>
<div class="t" style="right:21.20px;top:382.38px;font-size:10.0px;text-align:right;transform:scaleX(0.91);transform-origin:right 50%;">107,8%</div>
<div class="t" style="left:18.70px;top:399.91px;font-size:10.0px;text-align:left;transform:scaleX(0.91);transform-origin:left 50%;">13</div>
<div class="t" style="left:50.40px;top:399.91px;font-size:10.0px;text-align:left;transform:scaleX(0.955);transform-origin:left 50%;">Миколаївська</div>
<div class="t" style="right:848.00px;top:399.91px;font-size:10.0px;text-align:right;transform:scaleX(0.91);transform-origin:right 50%;">218 112</div>
<div class="t" style="right:785.75px;top:398.91px;font-size:10.0px;text-align:right;transform:scaleX(0.91);transform-origin:right 50%;">93 525</div>
<div class="t" style="right:722.75px;top:398.91px;font-size:10.0px;text-align:right;transform:scaleX(0.91);transform-origin:right 50%;">219 403</div>
<div class="t" style="right:652.95px;top:398.91px;font-size:10.0px;text-align:right;transform:scaleX(0.91);transform-origin:right 50%;">85 346</div>
<div class="t" style="right:597.75px;top:398.91px;font-size:10.0px;text-align:right;transform:scaleX(0.91);transform-origin:right 50%;">1 291</div>
<div class="t" style="right:550.80px;top:398.91px;font-size:10.0px;text-align:right;transform:scaleX(0.91);transform-origin:right 50%;">100,6%</div>
<div class="t" style="right:501.75px;top:398.91px;font-size:10.0px;text-align:right;transform:scaleX(0.91);transform-origin:right 50%;">-8 179</div>
<div class="t" style="right:452.35px;top:398.91px;font-size:10.0px;text-align:right;transform:scaleX(0.91);transform-origin:right 50%;">91,3%</div>
<div class="t" style="right:400.80px;top:399.91px;font-size:10.0px;text-align:right;transform:scaleX(0.91);transform-origin:right 50%;">7 654,0</div>
<div class="t" style="right:339.95px;top:398.91px;font-size:10.0px;text-align:right;transform:scaleX(0.91);transform-origin:right 50%;">2 979,4</div>
<div class="t" style="right:272.75px;top:398.91px;font-size:10.0px;text-align:right;transform:scaleX(0.91);transform-origin:right 50%;">8 772,2</div>
<div class="t" style="right:210.90px;top:398.91px;font-size:10.0px;text-align:right;transform:scaleX(0.91);transform-origin:right 50%;">3 172,0</div>
<div class="t" style="right:156.75px;top:398.91px;font-size:10.0px;text-align:right;transform:scaleX(0.91);transform-origin:right 50%;">1 118,2</div>
<div class="t" style="right:107.75px;top:398.91px;font-size:10.0px;text-align:right;transform:scaleX(0.91);transform-origin:right 50%;">114,6%</div>
<div class="t" style="right:69.10px;top:398.91px;font-size:10.0px;text-align:right;transform:scaleX(0.91);transform-origin:right 50%;">192,6</div>
<div class="t" style="right:21.20px;top:398.91px;font-size:10.0px;text-align:right;transform:scaleX(0.91);transform-origin:right 50%;">106,5%</div>
<div class="t" style="left:18.70px;top:416.44px;font-size:10.0px;text-align:left;transform:scaleX(0.91);transform-origin:left 50%;">14</div>
<div class="t" style="left:50.40px;top:416.44px;font-size:10.0px;text-align:left;transform:scaleX(0.955);transform-origin:left 50%;">Одеська</div>
<div class="t" style="right:848.00px;top:416.44px;font-size:10.0px;text-align:right;transform:scaleX(0.91);transform-origin:right 50%;">397 346</div>
<div class="t" style="right:785.75px;top:415.44px;font-size:10.0px;text-align:right;transform:scaleX(0.91);transform-origin:right 50%;">202 427</div>
<div class="t" style="right:722.75px;top:415.44px;font-size:10.0px;text-align:right;transform:scaleX(0.91);transform-origin:right 50%;">403 428</div>
<div class="t" style="right:652.95px;top:415.44px;font-size:10.0px;text-align:right;transform:scaleX(0.91);transform-origin:right 50%;">183 869</div>
<div class="t" style="right:597.75px;top:415.44px;font-size:10.0px;text-align:right;transform:scaleX(0.91);transform-origin:right 50%;">6 082</div>
<div class="t" style="right:550.80px;top:415.44px;font-size:10.0px;text-align:right;transform:scaleX(0.91);transform-origin:right 50%;">101,5%</div>
<div class="t" style="right:501.75px;top:415.44px;font-size:10.0px;text-align:right;transform:scaleX(0.91);transform-origin:right 50%;">-18 558</div>
<div class="t" style="right:452.35px;top:415.44px;font-size:10.0px;text-align:right;transform:scaleX(0.91);transform-origin:right 50%;">90,8%</div>
<div class="t" style="right:400.80px;top:416.44px;font-size:10.0px;text-align:right;transform:scaleX(0.91);transform-origin:right 50%;">14 419,8</div>
<div class="t" style="right:339.95px;top:415.44px;font-size:10.0px;text-align:right;transform:scaleX(0.91);transform-origin:right 50%;">6 417,4</div>
<div class="t" style="right:272.75px;top:415.44px;font-size:10.0px;text-align:right;transform:scaleX(0.91);transform-origin:right 50%;">16 768,1</div>
<div class="t" style="right:210.90px;top:415.44px;font-size:10.0px;text-align:right;transform:scaleX(0.91);transform-origin:right 50%;">6 729,1</div>
<div class="t" style="right:156.75px;top:415.44px;font-size:10.0px;text-align:right;transform:scaleX(0.91);transform-origin:right 50%;">2 348,3</div>
<div class="t" style="right:107.75px;top:415.44px;font-size:10.0px;text-align:right;transform:scaleX(0.91);transform-origin:right 50%;">116,3%</div>
<div class="t" style="right:69.10px;top:415.44px;font-size:10.0px;text-align:right;transform:scaleX(0.91);transform-origin:right 50%;">311,7</div>
<div class="t" style="right:21.20px;top:415.44px;font-size:10.0px;text-align:right;transform:scaleX(0.91);transform-origin:right 50%;">104,9%</div>
<div class="t" style="left:18.70px;top:432.98px;font-size:10.0px;text-align:left;transform:scaleX(0.91);transform-origin:left 50%;">15</div>
<div class="t" style="left:50.40px;top:432.98px;font-size:10.0px;text-align:left;transform:scaleX(0.955);transform-origin:left 50%;">Полтавська</div>
<div class="t" style="right:848.00px;top:432.98px;font-size:10.0px;text-align:right;transform:scaleX(0.91);transform-origin:right 50%;">284 816</div>
<div class="t" style="right:785.75px;top:431.98px;font-size:10.0px;text-align:right;transform:scaleX(0.91);transform-origin:right 50%;">145 797</div>
<div class="t" style="right:722.75px;top:431.98px;font-size:10.0px;text-align:right;transform:scaleX(0.91);transform-origin:right 50%;">291 169</div>
<div class="t" style="right:652.95px;top:431.98px;font-size:10.0px;text-align:right;transform:scaleX(0.91);transform-origin:right 50%;">132 201</div>
<div class="t" style="right:597.75px;top:431.98px;font-size:10.0px;text-align:right;transform:scaleX(0.91);transform-origin:right 50%;">6 353</div>
<div class="t" style="right:550.80px;top:431.98px;font-size:10.0px;text-align:right;transform:scaleX(0.91);transform-origin:right 50%;">102,2%</div>
<div class="t" style="right:501.75px;top:431.98px;font-size:10.0px;text-align:right;transform:scaleX(0.91);transform-origin:right 50%;">-13 596</div>
<div class="t" style="right:452.35px;top:431.98px;font-size:10.0px;text-align:right;transform:scaleX(0.91);transform-origin:right 50%;">90,7%</div>
<div class="t" style="right:400.80px;top:432.98px;font-size:10.0px;text-align:right;transform:scaleX(0.91);transform-origin:right 50%;">10 527,4</div>
<div class="t" style="right:339.95px;top:431.98px;font-size:10.0px;text-align:right;transform:scaleX(0.91);transform-origin:right 50%;">4 776,8</div>
<div class="t" style="right:272.75px;top:431.98px;font-size:10.0px;text-align:right;transform:scaleX(0.91);transform-origin:right 50%;">12 287,4</div>
<div class="t" style="right:210.90px;top:431.98px;font-size:10.0px;text-align:right;transform:scaleX(0.91);transform-origin:right 50%;">5 094,0</div>
<div class="t" style="right:156.75px;top:431.98px;font-size:10.0px;text-align:right;transform:scaleX(0.91);transform-origin:right 50%;">1 760,0</div>
<div class="t" style="right:107.75px;top:431.98px;font-size:10.0px;text-align:right;transform:scaleX(0.91);transform-origin:right 50%;">116,7%</div>
<div class="t" style="right:69.10px;top:431.98px;font-size:10.0px;text-align:right;transform:scaleX(0.91);transform-origin:right 50%;">317,2</div>
<div class="t" style="right:21.20px;top:431.98px;font-size:10.0px;text-align:right;transform:scaleX(0.91);transform-origin:right 50%;">106,6%</div>
<div class="t" style="left:18.70px;top:449.50px;font-size:10.0px;text-align:left;transform:scaleX(0.91);transform-origin:left 50%;">16</div>
<div class="t" style="left:50.40px;top:449.50px;font-size:10.0px;text-align:left;transform:scaleX(0.955);transform-origin:left 50%;">Рівненська</div>
<div class="t" style="right:848.00px;top:449.50px;font-size:10.0px;text-align:right;transform:scaleX(0.91);transform-origin:right 50%;">180 203</div>
<div class="t" style="right:785.75px;top:448.50px;font-size:10.0px;text-align:right;transform:scaleX(0.91);transform-origin:right 50%;">113 621</div>
<div class="t" style="right:722.75px;top:448.50px;font-size:10.0px;text-align:right;transform:scaleX(0.91);transform-origin:right 50%;">183 781</div>
<div class="t" style="right:652.95px;top:448.50px;font-size:10.0px;text-align:right;transform:scaleX(0.91);transform-origin:right 50%;">105 289</div>
<div class="t" style="right:597.75px;top:448.50px;font-size:10.0px;text-align:right;transform:scaleX(0.91);transform-origin:right 50%;">3 578</div>
<div class="t" style="right:550.80px;top:448.50px;font-size:10.0px;text-align:right;transform:scaleX(0.91);transform-origin:right 50%;">102,0%</div>
<div class="t" style="right:501.75px;top:448.50px;font-size:10.0px;text-align:right;transform:scaleX(0.91);transform-origin:right 50%;">-8 332</div>
<div class="t" style="right:452.35px;top:448.50px;font-size:10.0px;text-align:right;transform:scaleX(0.91);transform-origin:right 50%;">92,7%</div>
<div class="t" style="right:400.80px;top:449.50px;font-size:10.0px;text-align:right;transform:scaleX(0.91);transform-origin:right 50%;">5 857,1</div>
<div class="t" style="right:339.95px;top:448.50px;font-size:10.0px;text-align:right;transform:scaleX(0.91);transform-origin:right 50%;">3 132,3</div>
<div class="t" style="right:272.75px;top:448.50px;font-size:10.0px;text-align:right;transform:scaleX(0.91);transform-origin:right 50%;">6 739,6</div>
<div class="t" style="right:210.90px;top:448.50px;font-size:10.0px;text-align:right;transform:scaleX(0.91);transform-origin:right 50%;">3 417,8</div>
<div class="t" style="right:156.75px;top:448.50px;font-size:10.0px;text-align:right;transform:scaleX(0.91);transform-origin:right 50%;">882,5</div>
<div class="t" style="right:107.75px;top:448.50px;font-size:10.0px;text-align:right;transform:scaleX(0.91);transform-origin:right 50%;">115,1%</div>
<div class="t" style="right:69.10px;top:448.50px;font-size:10.0px;text-align:right;transform:scaleX(0.91);transform-origin:right 50%;">285,5</div>
<div class="t" style="right:21.20px;top:448.50px;font-size:10.0px;text-align:right;transform:scaleX(0.91);transform-origin:right 50%;">109,1%</div>
<div class="t" style="left:18.70px;top:466.03px;font-size:10.0px;text-align:left;transform:scaleX(0.91);transform-origin:left 50%;">17</div>
<div class="t" style="left:50.40px;top:466.03px;font-size:10.0px;text-align:left;transform:scaleX(0.955);transform-origin:left 50%;">Сумська</div>
<div class="t" style="right:848.00px;top:466.03px;font-size:10.0px;text-align:right;transform:scaleX(0.91);transform-origin:right 50%;">217 983</div>
<div class="t" style="right:785.75px;top:465.03px;font-size:10.0px;text-align:right;transform:scaleX(0.91);transform-origin:right 50%;">113 335</div>
<div class="t" style="right:722.75px;top:465.03px;font-size:10.0px;text-align:right;transform:scaleX(0.91);transform-origin:right 50%;">222 073</div>
<div class="t" style="right:652.95px;top:465.03px;font-size:10.0px;text-align:right;transform:scaleX(0.91);transform-origin:right 50%;">102 402</div>
<div class="t" style="right:597.75px;top:465.03px;font-size:10.0px;text-align:right;transform:scaleX(0.91);transform-origin:right 50%;">4 090</div>
<div class="t" style="right:550.80px;top:465.03px;font-size:10.0px;text-align:right;transform:scaleX(0.91);transform-origin:right 50%;">101,9%</div>
<div class="t" style="right:501.75px;top:465.03px;font-size:10.0px;text-align:right;transform:scaleX(0.91);transform-origin:right 50%;">-10 933</div>
<div class="t" style="right:452.35px;top:465.03px;font-size:10.0px;text-align:right;transform:scaleX(0.91);transform-origin:right 50%;">90,4%</div>
<div class="t" style="right:400.80px;top:466.03px;font-size:10.0px;text-align:right;transform:scaleX(0.91);transform-origin:right 50%;">7 440,5</div>
<div class="t" style="right:339.95px;top:465.03px;font-size:10.0px;text-align:right;transform:scaleX(0.91);transform-origin:right 50%;">3 462,7</div>
<div class="t" style="right:272.75px;top:465.03px;font-size:10.0px;text-align:right;transform:scaleX(0.91);transform-origin:right 50%;">8 558,1</div>
<div class="t" style="right:210.90px;top:465.03px;font-size:10.0px;text-align:right;transform:scaleX(0.91);transform-origin:right 50%;">3 762,9</div>
<div class="t" style="right:156.75px;top:465.03px;font-size:10.0px;text-align:right;transform:scaleX(0.91);transform-origin:right 50%;">1 117,6</div>
<div class="t" style="right:107.75px;top:465.03px;font-size:10.0px;text-align:right;transform:scaleX(0.91);transform-origin:right 50%;">115,0%</div>
<div class="t" style="right:69.10px;top:465.03px;font-size:10.0px;text-align:right;transform:scaleX(0.91);transform-origin:right 50%;">300,2</div>
<div class="t" style="right:21.20px;top:465.03px;font-size:10.0px;text-align:right;transform:scaleX(0.91);transform-origin:right 50%;">108,7%</div>
<div class="t" style="left:18.70px;top:482.56px;font-size:10.0px;text-align:left;transform:scaleX(0.91);transform-origin:left 50%;">18</div>
<div class="t" style="left:50.40px;top:482.56px;font-size:10.0px;text-align:left;transform:scaleX(0.955);transform-origin:left 50%;">Тернопільська</div>
<div class="t" style="right:848.00px;top:482.56px;font-size:10.0px;text-align:right;transform:scaleX(0.91);transform-origin:right 50%;">145 735</div>
<div class="t" style="right:785.75px;top:481.56px;font-size:10.0px;text-align:right;transform:scaleX(0.91);transform-origin:right 50%;">138 363</div>
<div class="t" style="right:722.75px;top:481.56px;font-size:10.0px;text-align:right;transform:scaleX(0.91);transform-origin:right 50%;">150 294</div>
<div class="t" style="right:652.95px;top:481.56px;font-size:10.0px;text-align:right;transform:scaleX(0.91);transform-origin:right 50%;">128 217</div>
<div class="t" style="right:597.75px;top:481.56px;font-size:10.0px;text-align:right;transform:scaleX(0.91);transform-origin:right 50%;">4 559</div>
<div class="t" style="right:550.80px;top:481.56px;font-size:10.0px;text-align:right;transform:scaleX(0.91);transform-origin:right 50%;">103,1%</div>
<div class="t" style="right:501.75px;top:481.56px;font-size:10.0px;text-align:right;transform:scaleX(0.91);transform-origin:right 50%;">-10 146</div>
<div class="t" style="right:452.35px;top:481.56px;font-size:10.0px;text-align:right;transform:scaleX(0.91);transform-origin:right 50%;">92,7%</div>
<div class="t" style="right:400.80px;top:482.56px;font-size:10.0px;text-align:right;transform:scaleX(0.91);transform-origin:right 50%;">4 265,3</div>
<div class="t" style="right:339.95px;top:481.56px;font-size:10.0px;text-align:right;transform:scaleX(0.91);transform-origin:right 50%;">3 766,0</div>
<div class="t" style="right:272.75px;top:481.56px;font-size:10.0px;text-align:right;transform:scaleX(0.91);transform-origin:right 50%;">5 038,6</div>
<div class="t" style="right:210.90px;top:481.56px;font-size:10.0px;text-align:right;transform:scaleX(0.91);transform-origin:right 50%;">4 062,5</div>
<div class="t" style="right:156.75px;top:481.56px;font-size:10.0px;text-align:right;transform:scaleX(0.91);transform-origin:right 50%;">773,3</div>
<div class="t" style="right:107.75px;top:481.56px;font-size:10.0px;text-align:right;transform:scaleX(0.91);transform-origin:right 50%;">118,1%</div>
<div class="t" style="right:69.10px;top:481.56px;font-size:10.0px;text-align:right;transform:scaleX(0.91);transform-origin:right 50%;">296,5</div>
<div class="t" style="right:21.20px;top:481.56px;font-size:10.0px;text-align:right;transform:scaleX(0.91);transform-origin:right 50%;">107,9%</div>
<div class="t" style="left:18.70px;top:499.10px;font-size:10.0px;text-align:left;transform:scaleX(0.91);transform-origin:left 50%;">19</div>
<div class="t" style="left:50.40px;top:499.10px;font-size:10.0px;text-align:left;transform:scaleX(0.955);transform-origin:left 50%;">Харківська</div>
<div class="t" style="right:848.00px;top:499.10px;font-size:10.0px;text-align:right;transform:scaleX(0.91);transform-origin:right 50%;">524 142</div>
<div class="t" style="right:785.75px;top:498.10px;font-size:10.0px;text-align:right;transform:scaleX(0.91);transform-origin:right 50%;">264 522</div>
<div class="t" style="right:722.75px;top:498.10px;font-size:10.0px;text-align:right;transform:scaleX(0.91);transform-origin:right 50%;">532 029</div>
<div class="t" style="right:652.95px;top:498.10px;font-size:10.0px;text-align:right;transform:scaleX(0.91);transform-origin:right 50%;">241 584</div>
<div class="t" style="right:597.75px;top:498.10px;font-size:10.0px;text-align:right;transform:scaleX(0.91);transform-origin:right 50%;">7 887</div>
<div class="t" style="right:550.80px;top:498.10px;font-size:10.0px;text-align:right;transform:scaleX(0.91);transform-origin:right 50%;">101,5%</div>
<div class="t" style="right:501.75px;top:498.10px;font-size:10.0px;text-align:right;transform:scaleX(0.91);transform-origin:right 50%;">-22 938</div>
<div class="t" style="right:452.35px;top:498.10px;font-size:10.0px;text-align:right;transform:scaleX(0.91);transform-origin:right 50%;">91,3%</div>
<div class="t" style="right:400.80px;top:499.10px;font-size:10.0px;text-align:right;transform:scaleX(0.91);transform-origin:right 50%;">20 155,1</div>
<div class="t" style="right:339.95px;top:498.10px;font-size:10.0px;text-align:right;transform:scaleX(0.91);transform-origin:right 50%;">9 090,6</div>
<div class="t" style="right:272.75px;top:498.10px;font-size:10.0px;text-align:right;transform:scaleX(0.91);transform-origin:right 50%;">23 529,7</div>
<div class="t" style="right:210.90px;top:498.10px;font-size:10.0px;text-align:right;transform:scaleX(0.91);transform-origin:right 50%;">9 603,6</div>
<div class="t" style="right:156.75px;top:498.10px;font-size:10.0px;text-align:right;transform:scaleX(0.91);transform-origin:right 50%;">3 374,6</div>
<div class="t" style="right:107.75px;top:498.10px;font-size:10.0px;text-align:right;transform:scaleX(0.91);transform-origin:right 50%;">116,7%</div>
<div class="t" style="right:69.10px;top:498.10px;font-size:10.0px;text-align:right;transform:scaleX(0.91);transform-origin:right 50%;">513,0</div>
<div class="t" style="right:21.20px;top:498.10px;font-size:10.0px;text-align:right;transform:scaleX(0.91);transform-origin:right 50%;">105,6%</div>
<div class="t" style="left:18.70px;top:515.62px;font-size:10.0px;text-align:left;transform:scaleX(0.91);transform-origin:left 50%;">20</div>
<div class="t" style="left:50.40px;top:515.62px;font-size:10.0px;text-align:left;transform:scaleX(0.955);transform-origin:left 50%;">Херсонська</div>
<div class="t" style="right:848.00px;top:515.62px;font-size:10.0px;text-align:right;transform:scaleX(0.91);transform-origin:right 50%;">182 165</div>
<div class="t" style="right:785.75px;top:514.62px;font-size:10.0px;text-align:right;transform:scaleX(0.91);transform-origin:right 50%;">100 909</div>
<div class="t" style="right:722.75px;top:514.62px;font-size:10.0px;text-align:right;transform:scaleX(0.91);transform-origin:right 50%;">184 144</div>
<div class="t" style="right:652.95px;top:514.62px;font-size:10.0px;text-align:right;transform:scaleX(0.91);transform-origin:right 50%;">91 547</div>
<div class="t" style="right:597.75px;top:514.62px;font-size:10.0px;text-align:right;transform:scaleX(0.91);transform-origin:right 50%;">1 979</div>
<div class="t" style="right:550.80px;top:514.62px;font-size:10.0px;text-align:right;transform:scaleX(0.91);transform-origin:right 50%;">101,1%</div>
<div class="t" style="right:501.75px;top:514.62px;font-size:10.0px;text-align:right;transform:scaleX(0.91);transform-origin:right 50%;">-9 362</div>
<div class="t" style="right:452.35px;top:514.62px;font-size:10.0px;text-align:right;transform:scaleX(0.91);transform-origin:right 50%;">90,7%</div>
<div class="t" style="right:400.80px;top:515.62px;font-size:10.0px;text-align:right;transform:scaleX(0.91);transform-origin:right 50%;">5 855,2</div>
<div class="t" style="right:339.95px;top:514.62px;font-size:10.0px;text-align:right;transform:scaleX(0.91);transform-origin:right 50%;">3 091,4</div>
<div class="t" style="right:272.75px;top:514.62px;font-size:10.0px;text-align:right;transform:scaleX(0.91);transform-origin:right 50%;">6 718,5</div>
<div class="t" style="right:210.90px;top:514.62px;font-size:10.0px;text-align:right;transform:scaleX(0.91);transform-origin:right 50%;">3 293,5</div>
<div class="t" style="right:156.75px;top:514.62px;font-size:10.0px;text-align:right;transform:scaleX(0.91);transform-origin:right 50%;">863,3</div>
<div class="t" style="right:107.75px;top:514.62px;font-size:10.0px;text-align:right;transform:scaleX(0.91);transform-origin:right 50%;">114,7%</div>
<div class="t" style="right:69.10px;top:514.62px;font-size:10.0px;text-align:right;transform:scaleX(0.91);transform-origin:right 50%;">202,1</div>
<div class="t" style="right:21.20px;top:514.62px;font-size:10.0px;text-align:right;transform:scaleX(0.91);transform-origin:right 50%;">106,5%</div>
<div class="t" style="left:18.70px;top:532.15px;font-size:10.0px;text-align:left;transform:scaleX(0.91);transform-origin:left 50%;">21</div>
<div class="t" style="left:50.40px;top:532.15px;font-size:10.0px;text-align:left;transform:scaleX(0.955);transform-origin:left 50%;">Хмельницька</div>
<div class="t" style="right:848.00px;top:532.15px;font-size:10.0px;text-align:right;transform:scaleX(0.91);transform-origin:right 50%;">249 564</div>
<div class="t" style="right:785.75px;top:531.15px;font-size:10.0px;text-align:right;transform:scaleX(0.91);transform-origin:right 50%;">153 230</div>
<div class="t" style="right:722.75px;top:531.15px;font-size:10.0px;text-align:right;transform:scaleX(0.91);transform-origin:right 50%;">256 792</div>
<div class="t" style="right:652.95px;top:531.15px;font-size:10.0px;text-align:right;transform:scaleX(0.91);transform-origin:right 50%;">141 120</div>
<div class="t" style="right:597.75px;top:531.15px;font-size:10.0px;text-align:right;transform:scaleX(0.91);transform-origin:right 50%;">7 228</div>
<div class="t" style="right:550.80px;top:531.15px;font-size:10.0px;text-align:right;transform:scaleX(0.91);transform-origin:right 50%;">102,9%</div>
<div class="t" style="right:501.75px;top:531.15px;font-size:10.0px;text-align:right;transform:scaleX(0.91);transform-origin:right 50%;">-12 110</div>
<div class="t" style="right:452.35px;top:531.15px;font-size:10.0px;text-align:right;transform:scaleX(0.91);transform-origin:right 50%;">92,1%</div>
<div class="t" style="right:400.80px;top:532.15px;font-size:10.0px;text-align:right;transform:scaleX(0.91);transform-origin:right 50%;">7 935,4</div>
<div class="t" style="right:339.95px;top:531.15px;font-size:10.0px;text-align:right;transform:scaleX(0.91);transform-origin:right 50%;">4 391,8</div>
<div class="t" style="right:272.75px;top:531.15px;font-size:10.0px;text-align:right;transform:scaleX(0.91);transform-origin:right 50%;">9 280,9</div>
<div class="t" style="right:210.90px;top:531.15px;font-size:10.0px;text-align:right;transform:scaleX(0.91);transform-origin:right 50%;">4 759,8</div>
<div class="t" style="right:156.75px;top:531.15px;font-size:10.0px;text-align:right;transform:scaleX(0.91);transform-origin:right 50%;">1 345,5</div>
<div class="t" style="right:107.75px;top:531.15px;font-size:10.0px;text-align:right;transform:scaleX(0.91);transform-origin:right 50%;">117,0%</div>
<div class="t" style="right:69.10px;top:531.15px;font-size:10.0px;text-align:right;transform:scaleX(0.91);transform-origin:right 50%;">368,0</div>
<div class="t" style="right:21.20px;top:531.15px;font-size:10.0px;text-align:right;transform:scaleX(0.91);transform-origin:right 50%;">108,4%</div>
<div class="t" style="left:18.70px;top:548.69px;font-size:10.0px;text-align:left;transform:scaleX(0.91);transform-origin:left 50%;">22</div>
<div class="t" style="left:50.40px;top:548.69px;font-size:10.0px;text-align:left;transform:scaleX(0.955);transform-origin:left 50%;">Черкаська</div>
<div class="t" style="right:848.00px;top:548.69px;font-size:10.0px;text-align:right;transform:scaleX(0.91);transform-origin:right 50%;">268 810</div>
<div class="t" style="right:785.75px;top:547.69px;font-size:10.0px;text-align:right;transform:scaleX(0.91);transform-origin:right 50%;">138 025</div>
<div class="t" style="right:722.75px;top:547.69px;font-size:10.0px;text-align:right;transform:scaleX(0.91);transform-origin:right 50%;">277 621</div>
<div class="t" style="right:652.95px;top:547.69px;font-size:10.0px;text-align:right;transform:scaleX(0.91);transform-origin:right 50%;">125 754</div>
<div class="t" style="right:597.75px;top:547.69px;font-size:10.0px;text-align:right;transform:scaleX(0.91);transform-origin:right 50%;">8 811</div>
<div class="t" style="right:550.80px;top:547.69px;font-size:10.0px;text-align:right;transform:scaleX(0.91);transform-origin:right 50%;">103,3%</div>
<div class="t" style="right:501.75px;top:547.69px;font-size:10.0px;text-align:right;transform:scaleX(0.91);transform-origin:right 50%;">-12 271</div>
<div class="t" style="right:452.35px;top:547.69px;font-size:10.0px;text-align:right;transform:scaleX(0.91);transform-origin:right 50%;">91,1%</div>
<div class="t" style="right:400.80px;top:548.69px;font-size:10.0px;text-align:right;transform:scaleX(0.91);transform-origin:right 50%;">8 876,8</div>
<div class="t" style="right:339.95px;top:547.69px;font-size:10.0px;text-align:right;transform:scaleX(0.91);transform-origin:right 50%;">4 262,3</div>
<div class="t" style="right:272.75px;top:547.69px;font-size:10.0px;text-align:right;transform:scaleX(0.91);transform-origin:right 50%;">10 438,4</div>
<div class="t" style="right:210.90px;top:547.69px;font-size:10.0px;text-align:right;transform:scaleX(0.91);transform-origin:right 50%;">4 597,1</div>
<div class="t" style="right:156.75px;top:547.69px;font-size:10.0px;text-align:right;transform:scaleX(0.91);transform-origin:right 50%;">1 561,6</div>
<div class="t" style="right:107.75px;top:547.69px;font-size:10.0px;text-align:right;transform:scaleX(0.91);transform-origin:right 50%;">117,6%</div>
<div class="t" style="right:69.10px;top:547.69px;font-size:10.0px;text-align:right;transform:scaleX(0.91);transform-origin:right 50%;">334,8</div>
<div class="t" style="right:21.20px;top:547.69px;font-size:10.0px;text-align:right;transform:scaleX(0.91);transform-origin:right 50%;">107,9%</div>
<div class="t" style="left:18.70px;top:565.22px;font-size:10.0px;text-align:left;transform:scaleX(0.91);transform-origin:left 50%;">23</div>
<div class="t" style="left:50.40px;top:565.22px;font-size:10.0px;text-align:left;transform:scaleX(0.955);transform-origin:left 50%;">Чернівецька</div>
<div class="t" style="right:848.00px;top:565.22px;font-size:10.0px;text-align:right;transform:scaleX(0.91);transform-origin:right 50%;">124 281</div>
<div class="t" style="right:785.75px;top:564.22px;font-size:10.0px;text-align:right;transform:scaleX(0.91);transform-origin:right 50%;">95 835</div>
<div class="t" style="right:722.75px;top:564.22px;font-size:10.0px;text-align:right;transform:scaleX(0.91);transform-origin:right 50%;">126 398</div>
<div class="t" style="right:652.95px;top:564.22px;font-size:10.0px;text-align:right;transform:scaleX(0.91);transform-origin:right 50%;">87 872</div>
<div class="t" style="right:597.75px;top:564.22px;font-size:10.0px;text-align:right;transform:scaleX(0.91);transform-origin:right 50%;">2 117</div>
<div class="t" style="right:550.80px;top:564.22px;font-size:10.0px;text-align:right;transform:scaleX(0.91);transform-origin:right 50%;">101,7%</div>
<div class="t" style="right:501.75px;top:564.22px;font-size:10.0px;text-align:right;transform:scaleX(0.91);transform-origin:right 50%;">-7 963</div>
<div class="t" style="right:452.35px;top:564.22px;font-size:10.0px;text-align:right;transform:scaleX(0.91);transform-origin:right 50%;">91,7%</div>
<div class="t" style="right:400.80px;top:565.22px;font-size:10.0px;text-align:right;transform:scaleX(0.91);transform-origin:right 50%;">3 807,9</div>
<div class="t" style="right:339.95px;top:564.22px;font-size:10.0px;text-align:right;transform:scaleX(0.91);transform-origin:right 50%;">2 622,7</div>
<div class="t" style="right:272.75px;top:564.22px;font-size:10.0px;text-align:right;transform:scaleX(0.91);transform-origin:right 50%;">4 407,7</div>
<div class="t" style="right:210.90px;top:564.22px;font-size:10.0px;text-align:right;transform:scaleX(0.91);transform-origin:right 50%;">2 823,9</div>
<div class="t" style="right:156.75px;top:564.22px;font-size:10.0px;text-align:right;transform:scaleX(0.91);transform-origin:right 50%;">599,8</div>
<div class="t" style="right:107.75px;top:564.22px;font-size:10.0px;text-align:right;transform:scaleX(0.91);transform-origin:right 50%;">115,8%</div>
<div class="t" style="right:69.10px;top:564.22px;font-size:10.0px;text-align:right;transform:scaleX(0.91);transform-origin:right 50%;">201,2</div>
<div class="t" style="right:21.20px;top:564.22px;font-size:10.0px;text-align:right;transform:scaleX(0.91);transform-origin:right 50%;">107,7%</div>
<div class="t" style="left:18.70px;top:581.75px;font-size:10.0px;text-align:left;transform:scaleX(0.91);transform-origin:left 50%;">24</div>
<div class="t" style="left:50.40px;top:581.75px;font-size:10.0px;text-align:left;transform:scaleX(0.955);transform-origin:left 50%;">Чернігівська</div>
<div class="t" style="right:848.00px;top:581.75px;font-size:10.0px;text-align:right;transform:scaleX(0.91);transform-origin:right 50%;">189 703</div>
<div class="t" style="right:785.75px;top:580.75px;font-size:10.0px;text-align:right;transform:scaleX(0.91);transform-origin:right 50%;">138 542</div>
<div class="t" style="right:722.75px;top:580.75px;font-size:10.0px;text-align:right;transform:scaleX(0.91);transform-origin:right 50%;">194 959</div>
<div class="t" style="right:652.95px;top:580.75px;font-size:10.0px;text-align:right;transform:scaleX(0.91);transform-origin:right 50%;">125 642</div>
<div class="t" style="right:597.75px;top:580.75px;font-size:10.0px;text-align:right;transform:scaleX(0.91);transform-origin:right 50%;">5 256</div>
<div class="t" style="right:550.80px;top:580.75px;font-size:10.0px;text-align:right;transform:scaleX(0.91);transform-origin:right 50%;">102,8%</div>
<div class="t" style="right:501.75px;top:580.75px;font-size:10.0px;text-align:right;transform:scaleX(0.91);transform-origin:right 50%;">-12 900</div>
<div class="t" style="right:452.35px;top:580.75px;font-size:10.0px;text-align:right;transform:scaleX(0.91);transform-origin:right 50%;">90,7%</div>
<div class="t" style="right:400.80px;top:581.75px;font-size:10.0px;text-align:right;transform:scaleX(0.91);transform-origin:right 50%;">6 457,5</div>
<div class="t" style="right:339.95px;top:580.75px;font-size:10.0px;text-align:right;transform:scaleX(0.91);transform-origin:right 50%;">4 239,1</div>
<div class="t" style="right:272.75px;top:580.75px;font-size:10.0px;text-align:right;transform:scaleX(0.91);transform-origin:right 50%;">7 608,9</div>
<div class="t" style="right:210.90px;top:580.75px;font-size:10.0px;text-align:right;transform:scaleX(0.91);transform-origin:right 50%;">4 528,6</div>
<div class="t" style="right:156.75px;top:580.75px;font-size:10.0px;text-align:right;transform:scaleX(0.91);transform-origin:right 50%;">1 151,4</div>
<div class="t" style="right:107.75px;top:580.75px;font-size:10.0px;text-align:right;transform:scaleX(0.91);transform-origin:right 50%;">117,8%</div>
<div class="t" style="right:69.10px;top:580.75px;font-size:10.0px;text-align:right;transform:scaleX(0.91);transform-origin:right 50%;">289,5</div>
<div class="t" style="right:21.20px;top:580.75px;font-size:10.0px;text-align:right;transform:scaleX(0.91);transform-origin:right 50%;">106,8%</div>
<div class="t" style="left:18.70px;top:598.27px;font-size:10.0px;text-align:left;transform:scaleX(0.91);transform-origin:left 50%;">25</div>
<div class="t" style="left:50.40px;top:598.27px;font-size:10.0px;text-align:left;transform:scaleX(0.955);transform-origin:left 50%;">м.Київ</div>
<div class="t" style="right:848.00px;top:598.27px;font-size:10.0px;text-align:right;transform:scaleX(0.91);transform-origin:right 50%;">567 010</div>
<div class="t" style="right:785.75px;top:597.27px;font-size:10.0px;text-align:right;transform:scaleX(0.91);transform-origin:right 50%;">202 982</div>
<div class="t" style="right:722.75px;top:597.27px;font-size:10.0px;text-align:right;transform:scaleX(0.91);transform-origin:right 50%;">582 854</div>
<div class="t" style="right:652.95px;top:597.27px;font-size:10.0px;text-align:right;transform:scaleX(0.91);transform-origin:right 50%;">180 072</div>
<div class="t" style="right:597.75px;top:597.27px;font-size:10.0px;text-align:right;transform:scaleX(0.91);transform-origin:right 50%;">15 844</div>
<div class="t" style="right:550.80px;top:597.27px;font-size:10.0px;text-align:right;transform:scaleX(0.91);transform-origin:right 50%;">102,8%</div>
<div class="t" style="right:501.75px;top:597.27px;font-size:10.0px;text-align:right;transform:scaleX(0.91);transform-origin:right 50%;">-22 910</div>
<div class="t" style="right:452.35px;top:597.27px;font-size:10.0px;text-align:right;transform:scaleX(0.91);transform-origin:right 50%;">88,7%</div>
<div class="t" style="right:400.80px;top:598.27px;font-size:10.0px;text-align:right;transform:scaleX(0.91);transform-origin:right 50%;">29 026,9</div>
<div class="t" style="right:339.95px;top:597.27px;font-size:10.0px;text-align:right;transform:scaleX(0.91);transform-origin:right 50%;">9 519,3</div>
<div class="t" style="right:272.75px;top:597.27px;font-size:10.0px;text-align:right;transform:scaleX(0.91);transform-origin:right 50%;">34 213,8</div>
<div class="t" style="right:210.90px;top:597.27px;font-size:10.0px;text-align:right;transform:scaleX(0.91);transform-origin:right 50%;">9 473,3</div>
<div class="t" style="right:156.75px;top:597.27px;font-size:10.0px;text-align:right;transform:scaleX(0.91);transform-origin:right 50%;">5 186,9</div>
<div class="t" style="right:107.75px;top:597.27px;font-size:10.0px;text-align:right;transform:scaleX(0.91);transform-origin:right 50%;">117,9%</div>
<div class="t" style="right:69.10px;top:597.27px;font-size:10.0px;text-align:right;transform:scaleX(0.91);transform-origin:right 50%;">46,0</div>
<div class="t" style="right:21.20px;top:597.27px;font-size:10.0px;text-align:right;transform:scaleX(0.91);transform-origin:right 50%;">99,5%</div>
<div class="t" style="left:921.00px;top:597.27px;font-size:10.0px;text-align:left;transform:scaleX(0.91);transform-origin:left 50%;">-</div>
<div class="r" style="left:428.75px;top:615.25px;width:0;height:0;border-top:3px solid #3a7a3a;border-right:3px solid transparent"></div>
<div class="r" style="left:524.25px;top:615.25px;width:0;height:0;border-top:3px solid #3a7a3a;border-right:3px solid transparent"></div>
<div class="r" style="left:879.75px;top:615.25px;width:0;height:0;border-top:3px solid #3a7a3a;border-right:3px solid transparent"></div>
<div class="t b" style="left:19.50px;top:614.07px;font-size:9.8px;text-align:left;">Разом:</div>
<div class="t b" style="right:848.00px;top:615.07px;font-size:9.8px;text-align:right;transform:scaleX(1.04);transform-origin:right 50%;">7 488 642</div>
<div class="t b" style="right:785.75px;top:614.07px;font-size:9.8px;text-align:right;transform:scaleX(1.04);transform-origin:right 50%;">3 846 088</div>
<div class="t b" style="right:722.75px;top:614.07px;font-size:9.8px;text-align:right;transform:scaleX(1.04);transform-origin:right 50%;">7 631 913</div>
<div class="t b" style="right:652.95px;top:614.07px;font-size:9.8px;text-align:right;transform:scaleX(1.04);transform-origin:right 50%;">3 499 041</div>
<div class="t b" style="right:597.75px;top:614.07px;font-size:9.8px;text-align:right;transform:scaleX(1.04);transform-origin:right 50%;">143 271</div>
<div class="t b" style="right:550.80px;top:614.07px;font-size:9.8px;text-align:right;transform:scaleX(1.04);transform-origin:right 50%;">101,9%</div>
<div class="t b" style="right:501.75px;top:614.07px;font-size:9.8px;text-align:right;transform:scaleX(1.04);transform-origin:right 50%;">-347 047</div>
<div class="t b" style="right:452.35px;top:614.07px;font-size:9.8px;text-align:right;transform:scaleX(1.04);transform-origin:right 50%;">91,0%</div>
<div class="t b" style="right:400.80px;top:615.07px;font-size:9.8px;text-align:right;transform:scaleX(1.04);transform-origin:right 50%;">287 842,4</div>
<div class="t b" style="right:339.95px;top:614.07px;font-size:9.8px;text-align:right;transform:scaleX(1.04);transform-origin:right 50%;">125 044,9</div>
<div class="t b" style="right:272.75px;top:614.07px;font-size:9.8px;text-align:right;transform:scaleX(1.04);transform-origin:right 50%;">334 267,3</div>
<div class="t b" style="right:210.90px;top:614.07px;font-size:9.8px;text-align:right;transform:scaleX(1.04);transform-origin:right 50%;">132 570,7</div>
<div class="t b" style="right:156.75px;top:614.07px;font-size:9.8px;text-align:right;transform:scaleX(1.04);transform-origin:right 50%;">46 424,9</div>
<div class="t b" style="right:107.75px;top:614.07px;font-size:9.8px;text-align:right;transform:scaleX(1.04);transform-origin:right 50%;">116,1%</div>
<div class="t b" style="right:69.10px;top:614.07px;font-size:9.8px;text-align:right;transform:scaleX(1.04);transform-origin:right 50%;">7 525,8</div>
<div class="t b" style="right:21.20px;top:614.07px;font-size:9.8px;text-align:right;transform:scaleX(1.04);transform-origin:right 50%;">106,0%</div>
</div></body></html>
